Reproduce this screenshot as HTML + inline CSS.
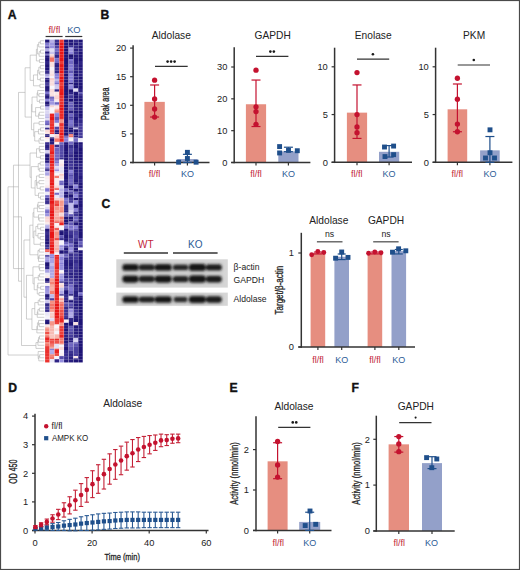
<!DOCTYPE html>
<html><head><meta charset="utf-8"><style>
html,body{margin:0;padding:0;background:#fff;}
svg{display:block;font-family:"Liberation Sans", sans-serif;}
text{font-variant-ligatures:none;font-feature-settings:'liga' 0;}
</style></head><body>
<svg width="520" height="570" viewBox="0 0 520 570">
<rect x="0" y="0" width="520" height="570" fill="#ffffff" />
<text x="7.8" y="18.97" font-size="12.2" text-anchor="start" fill="#111" font-weight="bold" stroke="#111" stroke-width="0.35">A</text>
<text x="100.6" y="18.57" font-size="12.2" text-anchor="start" fill="#111" font-weight="bold" stroke="#111" stroke-width="0.35">B</text>
<text x="101.4" y="207.57" font-size="12.2" text-anchor="start" fill="#111" font-weight="bold" stroke="#111" stroke-width="0.35">C</text>
<text x="8.2" y="391.67" font-size="12.2" text-anchor="start" fill="#111" font-weight="bold" stroke="#111" stroke-width="0.35">D</text>
<text x="229.4" y="392.07" font-size="12.2" text-anchor="start" fill="#111" font-weight="bold" stroke="#111" stroke-width="0.35">E</text>
<text x="351.4" y="391.57" font-size="12.2" text-anchor="start" fill="#111" font-weight="bold" stroke="#111" stroke-width="0.35">F</text>
<text x="171.3" y="39.15" font-size="10.2" text-anchor="middle" fill="#222222" font-weight="normal" >Aldolase</text>
<rect x="144.4" y="101.87" width="20.4" height="60.63" fill="#e68e80" />
<rect x="177.2" y="159.07" width="20.4" height="3.43" fill="#93a0c9" />
<line x1="133.1" y1="45.13" x2="133.1" y2="163.25" stroke="#333333" stroke-width="1.5" />
<line x1="130.1" y1="162.5" x2="209.5" y2="162.5" stroke="#333333" stroke-width="1.5" />
<line x1="130.1" y1="162.5" x2="133.1" y2="162.5" stroke="#333333" stroke-width="1.2" />
<text x="126.3" y="165.83" font-size="9.3" text-anchor="end" fill="#222222" font-weight="normal" >0</text>
<line x1="130.1" y1="133.9" x2="133.1" y2="133.9" stroke="#333333" stroke-width="1.2" />
<text x="126.3" y="137.23" font-size="9.3" text-anchor="end" fill="#222222" font-weight="normal" >5</text>
<line x1="130.1" y1="105.3" x2="133.1" y2="105.3" stroke="#333333" stroke-width="1.2" />
<text x="126.3" y="108.63" font-size="9.3" text-anchor="end" fill="#222222" font-weight="normal" >10</text>
<line x1="130.1" y1="76.7" x2="133.1" y2="76.7" stroke="#333333" stroke-width="1.2" />
<text x="126.3" y="80.03" font-size="9.3" text-anchor="end" fill="#222222" font-weight="normal" >15</text>
<line x1="130.1" y1="48.1" x2="133.1" y2="48.1" stroke="#333333" stroke-width="1.2" />
<text x="126.3" y="51.43" font-size="9.3" text-anchor="end" fill="#222222" font-weight="normal" >20</text>
<line x1="154.6" y1="162.5" x2="154.6" y2="165.5" stroke="#333333" stroke-width="1.2" />
<line x1="187.4" y1="162.5" x2="187.4" y2="165.5" stroke="#333333" stroke-width="1.2" />
<line x1="154.6" y1="117.03" x2="154.6" y2="84.99" stroke="#c4122f" stroke-width="1.2" />
<line x1="150.1" y1="84.99" x2="159.1" y2="84.99" stroke="#c4122f" stroke-width="1.2" />
<line x1="150.1" y1="117.03" x2="159.1" y2="117.03" stroke="#c4122f" stroke-width="1.2" />
<circle cx="154.6" cy="80.13" r="2.65" fill="#c4122f"/>
<circle cx="154.6" cy="99.01" r="2.65" fill="#c4122f"/>
<circle cx="154.6" cy="109.02" r="2.65" fill="#c4122f"/>
<circle cx="154.6" cy="117.03" r="2.65" fill="#c4122f"/>
<line x1="187.4" y1="162.5" x2="187.4" y2="154.32" stroke="#1f4f8b" stroke-width="1.2" />
<line x1="182.9" y1="154.32" x2="191.9" y2="154.32" stroke="#1f4f8b" stroke-width="1.2" />
<line x1="182.9" y1="162.5" x2="191.9" y2="162.5" stroke="#1f4f8b" stroke-width="1.2" />
<rect x="176.15" y="159.76" width="4.9" height="4.9" fill="#1f4f8b" />
<rect x="184.95" y="149.87" width="4.9" height="4.9" fill="#1f4f8b" />
<rect x="184.95" y="156.05" width="4.9" height="4.9" fill="#1f4f8b" />
<rect x="193.65" y="159.76" width="4.9" height="4.9" fill="#1f4f8b" />
<line x1="155" y1="66.4" x2="187.7" y2="66.4" stroke="#333333" stroke-width="1.2" />
<circle cx="167.6" cy="61.6" r="1.3" fill="#1a1a1a"/>
<circle cx="171.1" cy="61.6" r="1.3" fill="#1a1a1a"/>
<circle cx="174.6" cy="61.6" r="1.3" fill="#1a1a1a"/>
<text x="154.6" y="177.22" font-size="9" text-anchor="middle" fill="#c21f3a" font-weight="normal" >fl/fl</text>
<text x="187.4" y="177.22" font-size="9" text-anchor="middle" fill="#2c5c96" font-weight="normal" >KO</text>
<text x="272.7" y="38.95" font-size="10.2" text-anchor="middle" fill="#222222" font-weight="normal" >GAPDH</text>
<rect x="245.9" y="104.25" width="20.2" height="58.25" fill="#e68e80" />
<rect x="278.3" y="151.36" width="20.2" height="11.14" fill="#93a0c9" />
<line x1="234.2" y1="47.26" x2="234.2" y2="163.25" stroke="#333333" stroke-width="1.5" />
<line x1="231.2" y1="162.5" x2="310.4" y2="162.5" stroke="#333333" stroke-width="1.5" />
<line x1="231.2" y1="162.5" x2="234.2" y2="162.5" stroke="#333333" stroke-width="1.2" />
<text x="227.4" y="165.83" font-size="9.3" text-anchor="end" fill="#222222" font-weight="normal" >0</text>
<line x1="231.2" y1="130.67" x2="234.2" y2="130.67" stroke="#333333" stroke-width="1.2" />
<text x="227.4" y="134" font-size="9.3" text-anchor="end" fill="#222222" font-weight="normal" >10</text>
<line x1="231.2" y1="98.83" x2="234.2" y2="98.83" stroke="#333333" stroke-width="1.2" />
<text x="227.4" y="102.16" font-size="9.3" text-anchor="end" fill="#222222" font-weight="normal" >20</text>
<line x1="231.2" y1="67" x2="234.2" y2="67" stroke="#333333" stroke-width="1.2" />
<text x="227.4" y="70.33" font-size="9.3" text-anchor="end" fill="#222222" font-weight="normal" >30</text>
<line x1="256" y1="162.5" x2="256" y2="165.5" stroke="#333333" stroke-width="1.2" />
<line x1="288.4" y1="162.5" x2="288.4" y2="165.5" stroke="#333333" stroke-width="1.2" />
<line x1="256" y1="126.53" x2="256" y2="80.05" stroke="#c4122f" stroke-width="1.2" />
<line x1="251.5" y1="80.05" x2="260.5" y2="80.05" stroke="#c4122f" stroke-width="1.2" />
<line x1="251.5" y1="126.53" x2="260.5" y2="126.53" stroke="#c4122f" stroke-width="1.2" />
<circle cx="256" cy="70.18" r="2.65" fill="#c4122f"/>
<circle cx="256" cy="106.79" r="2.65" fill="#c4122f"/>
<circle cx="256" cy="111.57" r="2.65" fill="#c4122f"/>
<circle cx="256" cy="124.3" r="2.65" fill="#c4122f"/>
<line x1="288.4" y1="151.68" x2="288.4" y2="147.22" stroke="#1f4f8b" stroke-width="1.2" />
<line x1="283.9" y1="147.22" x2="292.9" y2="147.22" stroke="#1f4f8b" stroke-width="1.2" />
<line x1="283.9" y1="151.68" x2="292.9" y2="151.68" stroke="#1f4f8b" stroke-width="1.2" />
<rect x="277.15" y="144.13" width="4.9" height="4.9" fill="#1f4f8b" />
<rect x="277.15" y="150.5" width="4.9" height="4.9" fill="#1f4f8b" />
<rect x="286.05" y="147.95" width="4.9" height="4.9" fill="#1f4f8b" />
<rect x="294.85" y="148.27" width="4.9" height="4.9" fill="#1f4f8b" />
<line x1="256" y1="56.4" x2="288.4" y2="56.4" stroke="#333333" stroke-width="1.2" />
<circle cx="270.35" cy="51.6" r="1.3" fill="#1a1a1a"/>
<circle cx="273.85" cy="51.6" r="1.3" fill="#1a1a1a"/>
<text x="256" y="177.22" font-size="9" text-anchor="middle" fill="#c21f3a" font-weight="normal" >fl/fl</text>
<text x="288.5" y="177.22" font-size="9" text-anchor="middle" fill="#2c5c96" font-weight="normal" >KO</text>
<text x="373.2" y="38.95" font-size="10.2" text-anchor="middle" fill="#222222" font-weight="normal" >Enolase</text>
<rect x="346.9" y="112.64" width="20.2" height="49.66" fill="#e68e80" />
<rect x="379" y="151.8" width="20.2" height="10.51" fill="#93a0c9" />
<line x1="334.6" y1="47.7" x2="334.6" y2="163.05" stroke="#333333" stroke-width="1.5" />
<line x1="331.6" y1="162.3" x2="412" y2="162.3" stroke="#333333" stroke-width="1.5" />
<line x1="331.6" y1="162.3" x2="334.6" y2="162.3" stroke="#333333" stroke-width="1.2" />
<text x="327.8" y="165.63" font-size="9.3" text-anchor="end" fill="#222222" font-weight="normal" >0</text>
<line x1="331.6" y1="114.55" x2="334.6" y2="114.55" stroke="#333333" stroke-width="1.2" />
<text x="327.8" y="117.88" font-size="9.3" text-anchor="end" fill="#222222" font-weight="normal" >5</text>
<line x1="331.6" y1="66.8" x2="334.6" y2="66.8" stroke="#333333" stroke-width="1.2" />
<text x="327.8" y="70.13" font-size="9.3" text-anchor="end" fill="#222222" font-weight="normal" >10</text>
<line x1="357" y1="162.3" x2="357" y2="165.3" stroke="#333333" stroke-width="1.2" />
<line x1="389.1" y1="162.3" x2="389.1" y2="165.3" stroke="#333333" stroke-width="1.2" />
<line x1="357" y1="138.43" x2="357" y2="84.95" stroke="#c4122f" stroke-width="1.2" />
<line x1="352.5" y1="84.95" x2="361.5" y2="84.95" stroke="#c4122f" stroke-width="1.2" />
<line x1="352.5" y1="138.43" x2="361.5" y2="138.43" stroke="#c4122f" stroke-width="1.2" />
<circle cx="357" cy="72.53" r="2.65" fill="#c4122f"/>
<circle cx="357" cy="114.55" r="2.65" fill="#c4122f"/>
<circle cx="357" cy="126.97" r="2.65" fill="#c4122f"/>
<circle cx="357" cy="132.69" r="2.65" fill="#c4122f"/>
<line x1="389.1" y1="157.05" x2="389.1" y2="145.59" stroke="#1f4f8b" stroke-width="1.2" />
<line x1="384.6" y1="145.59" x2="393.6" y2="145.59" stroke="#1f4f8b" stroke-width="1.2" />
<line x1="384.6" y1="157.05" x2="393.6" y2="157.05" stroke="#1f4f8b" stroke-width="1.2" />
<rect x="382.05" y="144.57" width="4.9" height="4.9" fill="#1f4f8b" />
<rect x="391.15" y="143.62" width="4.9" height="4.9" fill="#1f4f8b" />
<rect x="382.55" y="154.12" width="4.9" height="4.9" fill="#1f4f8b" />
<rect x="391.15" y="152.21" width="4.9" height="4.9" fill="#1f4f8b" />
<line x1="357" y1="59.2" x2="389.2" y2="59.2" stroke="#333333" stroke-width="1.2" />
<circle cx="372.9" cy="54.2" r="1.3" fill="#1a1a1a"/>
<text x="356.8" y="177.02" font-size="9" text-anchor="middle" fill="#c21f3a" font-weight="normal" >fl/fl</text>
<text x="388.9" y="177.02" font-size="9" text-anchor="middle" fill="#2c5c96" font-weight="normal" >KO</text>
<text x="474.1" y="38.65" font-size="10.2" text-anchor="middle" fill="#222222" font-weight="normal" >PKM</text>
<rect x="447.6" y="109.3" width="19.6" height="53" fill="#e68e80" />
<rect x="480.1" y="150.36" width="19.6" height="11.94" fill="#93a0c9" />
<line x1="435.6" y1="47.7" x2="435.6" y2="163.05" stroke="#333333" stroke-width="1.5" />
<line x1="432.6" y1="162.3" x2="512.4" y2="162.3" stroke="#333333" stroke-width="1.5" />
<line x1="432.6" y1="162.3" x2="435.6" y2="162.3" stroke="#333333" stroke-width="1.2" />
<text x="428.8" y="165.63" font-size="9.3" text-anchor="end" fill="#222222" font-weight="normal" >0</text>
<line x1="432.6" y1="114.55" x2="435.6" y2="114.55" stroke="#333333" stroke-width="1.2" />
<text x="428.8" y="117.88" font-size="9.3" text-anchor="end" fill="#222222" font-weight="normal" >5</text>
<line x1="432.6" y1="66.8" x2="435.6" y2="66.8" stroke="#333333" stroke-width="1.2" />
<text x="428.8" y="70.13" font-size="9.3" text-anchor="end" fill="#222222" font-weight="normal" >10</text>
<line x1="457.4" y1="162.3" x2="457.4" y2="165.3" stroke="#333333" stroke-width="1.2" />
<line x1="489.9" y1="162.3" x2="489.9" y2="165.3" stroke="#333333" stroke-width="1.2" />
<line x1="457.4" y1="131.74" x2="457.4" y2="83.99" stroke="#c4122f" stroke-width="1.2" />
<line x1="452.9" y1="83.99" x2="461.9" y2="83.99" stroke="#c4122f" stroke-width="1.2" />
<line x1="452.9" y1="131.74" x2="461.9" y2="131.74" stroke="#c4122f" stroke-width="1.2" />
<circle cx="457.4" cy="78.26" r="2.65" fill="#c4122f"/>
<circle cx="457.4" cy="99.27" r="2.65" fill="#c4122f"/>
<circle cx="457.4" cy="124.1" r="2.65" fill="#c4122f"/>
<circle cx="457.4" cy="131.74" r="2.65" fill="#c4122f"/>
<line x1="489.9" y1="162.3" x2="489.9" y2="136.52" stroke="#1f4f8b" stroke-width="1.2" />
<line x1="485.4" y1="136.52" x2="494.4" y2="136.52" stroke="#1f4f8b" stroke-width="1.2" />
<line x1="485.4" y1="162.3" x2="494.4" y2="162.3" stroke="#1f4f8b" stroke-width="1.2" />
<rect x="487.55" y="127.38" width="4.9" height="4.9" fill="#1f4f8b" />
<rect x="487.55" y="150.3" width="4.9" height="4.9" fill="#1f4f8b" />
<rect x="483.05" y="155.55" width="4.9" height="4.9" fill="#1f4f8b" />
<rect x="492.05" y="155.55" width="4.9" height="4.9" fill="#1f4f8b" />
<line x1="457.7" y1="65" x2="490" y2="65" stroke="#333333" stroke-width="1.2" />
<circle cx="473.8" cy="60" r="1.3" fill="#1a1a1a"/>
<text x="457.3" y="177.02" font-size="9" text-anchor="middle" fill="#c21f3a" font-weight="normal" >fl/fl</text>
<text x="490" y="177.02" font-size="9" text-anchor="middle" fill="#2c5c96" font-weight="normal" >KO</text>
<text x="105.7" y="107.45" font-size="10.2" text-anchor="middle" fill="#222222" font-weight="normal" transform="rotate(-90 105.7 103.8)"  textLength="32.6" lengthAdjust="spacingAndGlyphs" stroke="#222222" stroke-width="0.3">Peak area</text>
<defs><filter id="bl" x="-20%" y="-50%" width="140%" height="200%"><feGaussianBlur stdDeviation="0.9"/></filter><filter id="bl2" x="-30%" y="-80%" width="160%" height="260%"><feGaussianBlur stdDeviation="1.8"/></filter></defs>
<rect x="116.3" y="259.3" width="111.5" height="28.3" fill="#d6d6d6" />
<g filter="url(#bl2)">
<rect x="121.5" y="262.7" width="18" height="9.4" rx="3.2" fill="#b4b4b4"/>
<rect x="138" y="263.1" width="17.6" height="8.6" rx="2.8" fill="#b4b4b4"/>
<rect x="153.8" y="262.7" width="18.8" height="9.4" rx="3.2" fill="#b4b4b4"/>
<rect x="172" y="263.2" width="17.2" height="8.4" rx="2.7" fill="#b4b4b4"/>
<rect x="188" y="262.5" width="18.8" height="9.8" rx="3.4" fill="#b4b4b4"/>
<rect x="205" y="263" width="17.6" height="8.8" rx="2.9" fill="#b4b4b4"/>
<rect x="121.5" y="274.3" width="18" height="9.6" rx="3.3" fill="#b4b4b4"/>
<rect x="138" y="274.6" width="17.6" height="9" rx="3" fill="#b4b4b4"/>
<rect x="153.8" y="274.3" width="18.8" height="9.6" rx="3.3" fill="#b4b4b4"/>
<rect x="171.8" y="274.7" width="17.6" height="8.8" rx="2.9" fill="#b4b4b4"/>
<rect x="188" y="274.1" width="18.8" height="10" rx="3.5" fill="#b4b4b4"/>
<rect x="205" y="274.4" width="17.6" height="9.4" rx="3.2" fill="#b4b4b4"/>
</g><g filter="url(#bl)">
<rect x="122.5" y="264.2" width="16" height="6.4" rx="3.2" fill="#181818"/>
<rect x="139" y="264.6" width="15.6" height="5.6" rx="2.8" fill="#222"/>
<rect x="154.8" y="264.2" width="16.8" height="6.4" rx="3.2" fill="#181818"/>
<rect x="173" y="264.7" width="15.2" height="5.4" rx="2.7" fill="#282828"/>
<rect x="189" y="264" width="16.8" height="6.8" rx="3.4" fill="#141414"/>
<rect x="206" y="264.5" width="15.6" height="5.8" rx="2.9" fill="#1e1e1e"/>
<rect x="122.5" y="275.8" width="16" height="6.6" rx="3.3" fill="#181818"/>
<rect x="139" y="276.1" width="15.6" height="6" rx="3" fill="#202020"/>
<rect x="154.8" y="275.8" width="16.8" height="6.6" rx="3.3" fill="#181818"/>
<rect x="172.8" y="276.2" width="15.6" height="5.8" rx="2.9" fill="#222"/>
<rect x="189" y="275.6" width="16.8" height="7" rx="3.5" fill="#141414"/>
<rect x="206" y="275.9" width="15.6" height="6.4" rx="3.2" fill="#1c1c1c"/>
</g>
<rect x="116.3" y="292.6" width="111.5" height="13.2" fill="#d6d6d6" />
<g filter="url(#bl2)">
<rect x="121.5" y="294.9" width="18" height="9.2" rx="3.1" fill="#b4b4b4"/>
<rect x="138" y="295.2" width="17.6" height="8.6" rx="2.8" fill="#b4b4b4"/>
<rect x="153.8" y="294.9" width="18.8" height="9.2" rx="3.1" fill="#b4b4b4"/>
<rect x="172.8" y="295.6" width="15.6" height="7.8" rx="2.4" fill="#b4b4b4"/>
<rect x="188" y="294.8" width="18.8" height="9.4" rx="3.2" fill="#b4b4b4"/>
<rect x="205" y="295" width="17.6" height="9" rx="3" fill="#b4b4b4"/>
</g><g filter="url(#bl)">
<rect x="122.5" y="296.4" width="16" height="6.2" rx="3.1" fill="#181818"/>
<rect x="139" y="296.7" width="15.6" height="5.6" rx="2.8" fill="#222"/>
<rect x="154.8" y="296.4" width="16.8" height="6.2" rx="3.1" fill="#181818"/>
<rect x="173.8" y="297.1" width="13.6" height="4.8" rx="2.4" fill="#2e2e2e"/>
<rect x="189" y="296.3" width="16.8" height="6.4" rx="3.2" fill="#141414"/>
<rect x="206" y="296.5" width="15.6" height="6" rx="3" fill="#1c1c1c"/>
</g>
<line x1="123.8" y1="253" x2="168" y2="253" stroke="#333" stroke-width="1.3" />
<line x1="173" y1="253" x2="217.6" y2="253" stroke="#333" stroke-width="1.3" />
<text x="145.8" y="247.98" font-size="10" text-anchor="middle" fill="#c21f3a" font-weight="normal" >WT</text>
<text x="195.3" y="247.98" font-size="10" text-anchor="middle" fill="#2c5c96" font-weight="normal" >KO</text>
<text x="233.6" y="269.68" font-size="8.6" text-anchor="start" fill="#222222" font-weight="normal" >&#946;-actin</text>
<text x="233.6" y="283.08" font-size="8.6" text-anchor="start" fill="#222222" font-weight="normal" >GAPDH</text>
<text x="233.6" y="302.18" font-size="8.6" text-anchor="start" fill="#222222" font-weight="normal" >Aldolase</text>
<text x="328.8" y="223.65" font-size="10.2" text-anchor="middle" fill="#222222" font-weight="normal" >Aldolase</text>
<text x="386" y="223.65" font-size="10.2" text-anchor="middle" fill="#222222" font-weight="normal" >GAPDH</text>
<rect x="310.6" y="253" width="14.6" height="94" fill="#e68e80" />
<rect x="334.4" y="256.76" width="14.6" height="90.24" fill="#93a0c9" />
<rect x="367.6" y="253" width="14.6" height="94" fill="#e68e80" />
<rect x="391.5" y="251.12" width="14.6" height="95.88" fill="#93a0c9" />
<line x1="301.3" y1="232.8" x2="301.3" y2="347.75" stroke="#333333" stroke-width="1.5" />
<line x1="298.3" y1="347" x2="415" y2="347" stroke="#333333" stroke-width="1.5" />
<line x1="298.3" y1="347" x2="301.3" y2="347" stroke="#333333" stroke-width="1.2" />
<text x="294" y="350.33" font-size="9.3" text-anchor="end" fill="#222222" font-weight="normal" >0</text>
<line x1="298.3" y1="253" x2="301.3" y2="253" stroke="#333333" stroke-width="1.2" />
<text x="294" y="256.33" font-size="9.3" text-anchor="end" fill="#222222" font-weight="normal" >1</text>
<line x1="317.9" y1="347" x2="317.9" y2="350" stroke="#333333" stroke-width="1.2" />
<line x1="341.7" y1="347" x2="341.7" y2="350" stroke="#333333" stroke-width="1.2" />
<line x1="374.9" y1="347" x2="374.9" y2="350" stroke="#333333" stroke-width="1.2" />
<line x1="398.8" y1="347" x2="398.8" y2="350" stroke="#333333" stroke-width="1.2" />
<line x1="317.9" y1="253.94" x2="317.9" y2="252.06" stroke="#c4122f" stroke-width="1.2" />
<line x1="313.9" y1="252.06" x2="321.9" y2="252.06" stroke="#c4122f" stroke-width="1.2" />
<line x1="313.9" y1="253.94" x2="321.9" y2="253.94" stroke="#c4122f" stroke-width="1.2" />
<circle cx="311.7" cy="254.8" r="2.45" fill="#c4122f"/>
<circle cx="317.8" cy="251.4" r="2.45" fill="#c4122f"/>
<circle cx="323.8" cy="252.5" r="2.45" fill="#c4122f"/>
<line x1="341.7" y1="259.58" x2="341.7" y2="254" stroke="#1f4f8b" stroke-width="1.2" />
<line x1="337.7" y1="254" x2="345.7" y2="254" stroke="#1f4f8b" stroke-width="1.2" />
<line x1="337.7" y1="259.58" x2="345.7" y2="259.58" stroke="#1f4f8b" stroke-width="1.2" />
<rect x="333.15" y="255.75" width="4.9" height="4.9" fill="#1f4f8b" />
<rect x="339.25" y="249.55" width="4.9" height="4.9" fill="#1f4f8b" />
<rect x="345.55" y="254.95" width="4.9" height="4.9" fill="#1f4f8b" />
<line x1="374.9" y1="253.94" x2="374.9" y2="252.06" stroke="#c4122f" stroke-width="1.2" />
<line x1="370.9" y1="252.06" x2="378.9" y2="252.06" stroke="#c4122f" stroke-width="1.2" />
<line x1="370.9" y1="253.94" x2="378.9" y2="253.94" stroke="#c4122f" stroke-width="1.2" />
<circle cx="368.6" cy="253.2" r="2.45" fill="#c4122f"/>
<circle cx="374.8" cy="252" r="2.45" fill="#c4122f"/>
<circle cx="381" cy="252.8" r="2.45" fill="#c4122f"/>
<line x1="398.8" y1="253.94" x2="398.8" y2="249.5" stroke="#1f4f8b" stroke-width="1.2" />
<line x1="394.8" y1="249.5" x2="402.8" y2="249.5" stroke="#1f4f8b" stroke-width="1.2" />
<line x1="394.8" y1="253.94" x2="402.8" y2="253.94" stroke="#1f4f8b" stroke-width="1.2" />
<rect x="390.05" y="249.75" width="4.9" height="4.9" fill="#1f4f8b" />
<rect x="396.15" y="246.35" width="4.9" height="4.9" fill="#1f4f8b" />
<rect x="403.35" y="248.35" width="4.9" height="4.9" fill="#1f4f8b" />
<line x1="316.9" y1="241.8" x2="342.5" y2="241.8" stroke="#555" stroke-width="1.3" />
<line x1="373.2" y1="241.8" x2="398.6" y2="241.8" stroke="#555" stroke-width="1.3" />
<text x="329.6" y="237.31" font-size="8.7" text-anchor="middle" fill="#222222" font-weight="normal" >ns</text>
<text x="386" y="237.31" font-size="8.7" text-anchor="middle" fill="#222222" font-weight="normal" >ns</text>
<text x="279.5" y="293.68" font-size="10" text-anchor="middle" fill="#222222" font-weight="normal" transform="rotate(-90 279.5 290.1)"  textLength="48.8" lengthAdjust="spacingAndGlyphs" stroke="#222222" stroke-width="0.3">Target/&#946;-actin</text>
<text x="317.9" y="362.62" font-size="9" text-anchor="middle" fill="#c21f3a" font-weight="normal" >fl/fl</text>
<text x="341.7" y="362.62" font-size="9" text-anchor="middle" fill="#2c5c96" font-weight="normal" >KO</text>
<text x="374.9" y="362.62" font-size="9" text-anchor="middle" fill="#c21f3a" font-weight="normal" >fl/fl</text>
<text x="398.8" y="362.62" font-size="9" text-anchor="middle" fill="#2c5c96" font-weight="normal" >KO</text>
<text x="122.7" y="406.65" font-size="10.2" text-anchor="middle" fill="#222222" font-weight="normal" >Aldolase</text>
<line x1="35" y1="413.8" x2="35" y2="531.25" stroke="#333333" stroke-width="1.5" />
<line x1="32" y1="530.5" x2="208.5" y2="530.5" stroke="#333333" stroke-width="1.5" />
<line x1="32" y1="530.5" x2="35" y2="530.5" stroke="#333333" stroke-width="1.2" />
<text x="28.2" y="533.83" font-size="9.3" text-anchor="end" fill="#222222" font-weight="normal" >0</text>
<line x1="32" y1="501.9" x2="35" y2="501.9" stroke="#333333" stroke-width="1.2" />
<text x="28.2" y="505.23" font-size="9.3" text-anchor="end" fill="#222222" font-weight="normal" >1</text>
<line x1="32" y1="473.3" x2="35" y2="473.3" stroke="#333333" stroke-width="1.2" />
<text x="28.2" y="476.63" font-size="9.3" text-anchor="end" fill="#222222" font-weight="normal" >2</text>
<line x1="32" y1="444.7" x2="35" y2="444.7" stroke="#333333" stroke-width="1.2" />
<text x="28.2" y="448.03" font-size="9.3" text-anchor="end" fill="#222222" font-weight="normal" >3</text>
<line x1="32" y1="416.1" x2="35" y2="416.1" stroke="#333333" stroke-width="1.2" />
<text x="28.2" y="419.43" font-size="9.3" text-anchor="end" fill="#222222" font-weight="normal" >4</text>
<line x1="35" y1="530.5" x2="35" y2="533.5" stroke="#333333" stroke-width="1.2" />
<text x="35" y="545.63" font-size="9.3" text-anchor="middle" fill="#222222" font-weight="normal" >0</text>
<line x1="92.1" y1="530.5" x2="92.1" y2="533.5" stroke="#333333" stroke-width="1.2" />
<text x="92.1" y="545.63" font-size="9.3" text-anchor="middle" fill="#222222" font-weight="normal" >20</text>
<line x1="149.2" y1="530.5" x2="149.2" y2="533.5" stroke="#333333" stroke-width="1.2" />
<text x="149.2" y="545.63" font-size="9.3" text-anchor="middle" fill="#222222" font-weight="normal" >40</text>
<line x1="206.3" y1="530.5" x2="206.3" y2="533.5" stroke="#333333" stroke-width="1.2" />
<text x="206.3" y="545.63" font-size="9.3" text-anchor="middle" fill="#222222" font-weight="normal" >60</text>
<text x="122.2" y="559.81" font-size="9.8" text-anchor="middle" fill="#222222" font-weight="normal"  textLength="35.5" lengthAdjust="spacingAndGlyphs" stroke="#222222" stroke-width="0.3">Time (min)</text>
<text x="13.1" y="475.35" font-size="10.2" text-anchor="middle" fill="#222222" font-weight="normal" transform="rotate(-90 13.1 471.7)"  textLength="24" lengthAdjust="spacingAndGlyphs" stroke="#222222" stroke-width="0.3">OD 450</text>
<line x1="35.4" y1="529.93" x2="35.4" y2="527.64" stroke="#2a5a94" stroke-width="1.1" />
<line x1="33.2" y1="527.64" x2="37.6" y2="527.64" stroke="#2a5a94" stroke-width="1.1" />
<line x1="33.2" y1="529.93" x2="37.6" y2="529.93" stroke="#2a5a94" stroke-width="1.1" />
<line x1="41.11" y1="529.93" x2="41.11" y2="526.5" stroke="#2a5a94" stroke-width="1.1" />
<line x1="38.91" y1="526.5" x2="43.31" y2="526.5" stroke="#2a5a94" stroke-width="1.1" />
<line x1="38.91" y1="529.93" x2="43.31" y2="529.93" stroke="#2a5a94" stroke-width="1.1" />
<line x1="46.82" y1="530.21" x2="46.82" y2="525.07" stroke="#2a5a94" stroke-width="1.1" />
<line x1="44.62" y1="525.07" x2="49.02" y2="525.07" stroke="#2a5a94" stroke-width="1.1" />
<line x1="44.62" y1="530.21" x2="49.02" y2="530.21" stroke="#2a5a94" stroke-width="1.1" />
<line x1="52.53" y1="530.5" x2="52.53" y2="523.64" stroke="#2a5a94" stroke-width="1.1" />
<line x1="50.33" y1="523.64" x2="54.73" y2="523.64" stroke="#2a5a94" stroke-width="1.1" />
<line x1="50.33" y1="530.5" x2="54.73" y2="530.5" stroke="#2a5a94" stroke-width="1.1" />
<line x1="58.24" y1="530.5" x2="58.24" y2="522.49" stroke="#2a5a94" stroke-width="1.1" />
<line x1="56.04" y1="522.49" x2="60.44" y2="522.49" stroke="#2a5a94" stroke-width="1.1" />
<line x1="56.04" y1="530.5" x2="60.44" y2="530.5" stroke="#2a5a94" stroke-width="1.1" />
<line x1="63.95" y1="530.5" x2="63.95" y2="520.78" stroke="#2a5a94" stroke-width="1.1" />
<line x1="61.75" y1="520.78" x2="66.15" y2="520.78" stroke="#2a5a94" stroke-width="1.1" />
<line x1="61.75" y1="530.5" x2="66.15" y2="530.5" stroke="#2a5a94" stroke-width="1.1" />
<line x1="69.66" y1="530.79" x2="69.66" y2="519.35" stroke="#2a5a94" stroke-width="1.1" />
<line x1="67.46" y1="519.35" x2="71.86" y2="519.35" stroke="#2a5a94" stroke-width="1.1" />
<line x1="67.46" y1="530.79" x2="71.86" y2="530.79" stroke="#2a5a94" stroke-width="1.1" />
<line x1="75.37" y1="530.79" x2="75.37" y2="518.2" stroke="#2a5a94" stroke-width="1.1" />
<line x1="73.17" y1="518.2" x2="77.57" y2="518.2" stroke="#2a5a94" stroke-width="1.1" />
<line x1="73.17" y1="530.79" x2="77.57" y2="530.79" stroke="#2a5a94" stroke-width="1.1" />
<line x1="81.08" y1="530.5" x2="81.08" y2="516.77" stroke="#2a5a94" stroke-width="1.1" />
<line x1="78.88" y1="516.77" x2="83.28" y2="516.77" stroke="#2a5a94" stroke-width="1.1" />
<line x1="78.88" y1="530.5" x2="83.28" y2="530.5" stroke="#2a5a94" stroke-width="1.1" />
<line x1="86.79" y1="530.5" x2="86.79" y2="515.63" stroke="#2a5a94" stroke-width="1.1" />
<line x1="84.59" y1="515.63" x2="88.99" y2="515.63" stroke="#2a5a94" stroke-width="1.1" />
<line x1="84.59" y1="530.5" x2="88.99" y2="530.5" stroke="#2a5a94" stroke-width="1.1" />
<line x1="92.5" y1="530.21" x2="92.5" y2="514.77" stroke="#2a5a94" stroke-width="1.1" />
<line x1="90.3" y1="514.77" x2="94.7" y2="514.77" stroke="#2a5a94" stroke-width="1.1" />
<line x1="90.3" y1="530.21" x2="94.7" y2="530.21" stroke="#2a5a94" stroke-width="1.1" />
<line x1="98.21" y1="529.93" x2="98.21" y2="513.91" stroke="#2a5a94" stroke-width="1.1" />
<line x1="96.01" y1="513.91" x2="100.41" y2="513.91" stroke="#2a5a94" stroke-width="1.1" />
<line x1="96.01" y1="529.93" x2="100.41" y2="529.93" stroke="#2a5a94" stroke-width="1.1" />
<line x1="103.92" y1="529.36" x2="103.92" y2="513.34" stroke="#2a5a94" stroke-width="1.1" />
<line x1="101.72" y1="513.34" x2="106.12" y2="513.34" stroke="#2a5a94" stroke-width="1.1" />
<line x1="101.72" y1="529.36" x2="106.12" y2="529.36" stroke="#2a5a94" stroke-width="1.1" />
<line x1="109.63" y1="529.07" x2="109.63" y2="513.05" stroke="#2a5a94" stroke-width="1.1" />
<line x1="107.43" y1="513.05" x2="111.83" y2="513.05" stroke="#2a5a94" stroke-width="1.1" />
<line x1="107.43" y1="529.07" x2="111.83" y2="529.07" stroke="#2a5a94" stroke-width="1.1" />
<line x1="115.34" y1="528.5" x2="115.34" y2="512.48" stroke="#2a5a94" stroke-width="1.1" />
<line x1="113.14" y1="512.48" x2="117.54" y2="512.48" stroke="#2a5a94" stroke-width="1.1" />
<line x1="113.14" y1="528.5" x2="117.54" y2="528.5" stroke="#2a5a94" stroke-width="1.1" />
<line x1="121.05" y1="528.21" x2="121.05" y2="512.2" stroke="#2a5a94" stroke-width="1.1" />
<line x1="118.85" y1="512.2" x2="123.25" y2="512.2" stroke="#2a5a94" stroke-width="1.1" />
<line x1="118.85" y1="528.21" x2="123.25" y2="528.21" stroke="#2a5a94" stroke-width="1.1" />
<line x1="126.76" y1="527.93" x2="126.76" y2="511.91" stroke="#2a5a94" stroke-width="1.1" />
<line x1="124.56" y1="511.91" x2="128.96" y2="511.91" stroke="#2a5a94" stroke-width="1.1" />
<line x1="124.56" y1="527.93" x2="128.96" y2="527.93" stroke="#2a5a94" stroke-width="1.1" />
<line x1="132.47" y1="527.93" x2="132.47" y2="511.91" stroke="#2a5a94" stroke-width="1.1" />
<line x1="130.27" y1="511.91" x2="134.67" y2="511.91" stroke="#2a5a94" stroke-width="1.1" />
<line x1="130.27" y1="527.93" x2="134.67" y2="527.93" stroke="#2a5a94" stroke-width="1.1" />
<line x1="138.18" y1="527.93" x2="138.18" y2="511.91" stroke="#2a5a94" stroke-width="1.1" />
<line x1="135.98" y1="511.91" x2="140.38" y2="511.91" stroke="#2a5a94" stroke-width="1.1" />
<line x1="135.98" y1="527.93" x2="140.38" y2="527.93" stroke="#2a5a94" stroke-width="1.1" />
<line x1="143.89" y1="527.64" x2="143.89" y2="512.2" stroke="#2a5a94" stroke-width="1.1" />
<line x1="141.69" y1="512.2" x2="146.09" y2="512.2" stroke="#2a5a94" stroke-width="1.1" />
<line x1="141.69" y1="527.64" x2="146.09" y2="527.64" stroke="#2a5a94" stroke-width="1.1" />
<line x1="149.6" y1="527.64" x2="149.6" y2="512.2" stroke="#2a5a94" stroke-width="1.1" />
<line x1="147.4" y1="512.2" x2="151.8" y2="512.2" stroke="#2a5a94" stroke-width="1.1" />
<line x1="147.4" y1="527.64" x2="151.8" y2="527.64" stroke="#2a5a94" stroke-width="1.1" />
<line x1="155.31" y1="527.64" x2="155.31" y2="512.2" stroke="#2a5a94" stroke-width="1.1" />
<line x1="153.11" y1="512.2" x2="157.51" y2="512.2" stroke="#2a5a94" stroke-width="1.1" />
<line x1="153.11" y1="527.64" x2="157.51" y2="527.64" stroke="#2a5a94" stroke-width="1.1" />
<line x1="161.02" y1="527.64" x2="161.02" y2="512.2" stroke="#2a5a94" stroke-width="1.1" />
<line x1="158.82" y1="512.2" x2="163.22" y2="512.2" stroke="#2a5a94" stroke-width="1.1" />
<line x1="158.82" y1="527.64" x2="163.22" y2="527.64" stroke="#2a5a94" stroke-width="1.1" />
<line x1="166.73" y1="527.64" x2="166.73" y2="512.2" stroke="#2a5a94" stroke-width="1.1" />
<line x1="164.53" y1="512.2" x2="168.93" y2="512.2" stroke="#2a5a94" stroke-width="1.1" />
<line x1="164.53" y1="527.64" x2="168.93" y2="527.64" stroke="#2a5a94" stroke-width="1.1" />
<line x1="172.44" y1="527.64" x2="172.44" y2="512.2" stroke="#2a5a94" stroke-width="1.1" />
<line x1="170.24" y1="512.2" x2="174.64" y2="512.2" stroke="#2a5a94" stroke-width="1.1" />
<line x1="170.24" y1="527.64" x2="174.64" y2="527.64" stroke="#2a5a94" stroke-width="1.1" />
<line x1="178.15" y1="527.64" x2="178.15" y2="512.2" stroke="#2a5a94" stroke-width="1.1" />
<line x1="175.95" y1="512.2" x2="180.35" y2="512.2" stroke="#2a5a94" stroke-width="1.1" />
<line x1="175.95" y1="527.64" x2="180.35" y2="527.64" stroke="#2a5a94" stroke-width="1.1" />
<rect x="33.3" y="526.68" width="4.2" height="4.2" fill="#1f4f8b" />
<rect x="39.01" y="526.11" width="4.2" height="4.2" fill="#1f4f8b" />
<rect x="44.72" y="525.54" width="4.2" height="4.2" fill="#1f4f8b" />
<rect x="50.43" y="524.97" width="4.2" height="4.2" fill="#1f4f8b" />
<rect x="56.14" y="524.4" width="4.2" height="4.2" fill="#1f4f8b" />
<rect x="61.85" y="523.54" width="4.2" height="4.2" fill="#1f4f8b" />
<rect x="67.56" y="522.97" width="4.2" height="4.2" fill="#1f4f8b" />
<rect x="73.27" y="522.39" width="4.2" height="4.2" fill="#1f4f8b" />
<rect x="78.98" y="521.54" width="4.2" height="4.2" fill="#1f4f8b" />
<rect x="84.69" y="520.96" width="4.2" height="4.2" fill="#1f4f8b" />
<rect x="90.4" y="520.39" width="4.2" height="4.2" fill="#1f4f8b" />
<rect x="96.11" y="519.82" width="4.2" height="4.2" fill="#1f4f8b" />
<rect x="101.82" y="519.25" width="4.2" height="4.2" fill="#1f4f8b" />
<rect x="107.53" y="518.96" width="4.2" height="4.2" fill="#1f4f8b" />
<rect x="113.24" y="518.39" width="4.2" height="4.2" fill="#1f4f8b" />
<rect x="118.95" y="518.1" width="4.2" height="4.2" fill="#1f4f8b" />
<rect x="124.66" y="517.82" width="4.2" height="4.2" fill="#1f4f8b" />
<rect x="130.37" y="517.82" width="4.2" height="4.2" fill="#1f4f8b" />
<rect x="136.08" y="517.82" width="4.2" height="4.2" fill="#1f4f8b" />
<rect x="141.79" y="517.82" width="4.2" height="4.2" fill="#1f4f8b" />
<rect x="147.5" y="517.82" width="4.2" height="4.2" fill="#1f4f8b" />
<rect x="153.21" y="517.82" width="4.2" height="4.2" fill="#1f4f8b" />
<rect x="158.92" y="517.82" width="4.2" height="4.2" fill="#1f4f8b" />
<rect x="164.63" y="517.82" width="4.2" height="4.2" fill="#1f4f8b" />
<rect x="170.34" y="517.82" width="4.2" height="4.2" fill="#1f4f8b" />
<rect x="176.05" y="517.82" width="4.2" height="4.2" fill="#1f4f8b" />
<line x1="35.4" y1="528.5" x2="35.4" y2="525.64" stroke="#c42036" stroke-width="1.1" />
<line x1="33.2" y1="525.64" x2="37.6" y2="525.64" stroke="#c42036" stroke-width="1.1" />
<line x1="33.2" y1="528.5" x2="37.6" y2="528.5" stroke="#c42036" stroke-width="1.1" />
<circle cx="35.4" cy="527.07" r="2.3" fill="#c4122f"/>
<line x1="41.11" y1="526.78" x2="41.11" y2="522.78" stroke="#c42036" stroke-width="1.1" />
<line x1="38.91" y1="522.78" x2="43.31" y2="522.78" stroke="#c42036" stroke-width="1.1" />
<line x1="38.91" y1="526.78" x2="43.31" y2="526.78" stroke="#c42036" stroke-width="1.1" />
<circle cx="41.11" cy="524.78" r="2.3" fill="#c4122f"/>
<line x1="46.82" y1="524.78" x2="46.82" y2="519.06" stroke="#c42036" stroke-width="1.1" />
<line x1="44.62" y1="519.06" x2="49.02" y2="519.06" stroke="#c42036" stroke-width="1.1" />
<line x1="44.62" y1="524.78" x2="49.02" y2="524.78" stroke="#c42036" stroke-width="1.1" />
<circle cx="46.82" cy="521.92" r="2.3" fill="#c4122f"/>
<line x1="52.53" y1="522.21" x2="52.53" y2="514.77" stroke="#c42036" stroke-width="1.1" />
<line x1="50.33" y1="514.77" x2="54.73" y2="514.77" stroke="#c42036" stroke-width="1.1" />
<line x1="50.33" y1="522.21" x2="54.73" y2="522.21" stroke="#c42036" stroke-width="1.1" />
<circle cx="52.53" cy="518.49" r="2.3" fill="#c4122f"/>
<line x1="58.24" y1="519.63" x2="58.24" y2="509.34" stroke="#c42036" stroke-width="1.1" />
<line x1="56.04" y1="509.34" x2="60.44" y2="509.34" stroke="#c42036" stroke-width="1.1" />
<line x1="56.04" y1="519.63" x2="60.44" y2="519.63" stroke="#c42036" stroke-width="1.1" />
<circle cx="58.24" cy="514.48" r="2.3" fill="#c4122f"/>
<line x1="63.95" y1="517.06" x2="63.95" y2="502.76" stroke="#c42036" stroke-width="1.1" />
<line x1="61.75" y1="502.76" x2="66.15" y2="502.76" stroke="#c42036" stroke-width="1.1" />
<line x1="61.75" y1="517.06" x2="66.15" y2="517.06" stroke="#c42036" stroke-width="1.1" />
<circle cx="63.95" cy="509.91" r="2.3" fill="#c4122f"/>
<line x1="69.66" y1="513.91" x2="69.66" y2="496.75" stroke="#c42036" stroke-width="1.1" />
<line x1="67.46" y1="496.75" x2="71.86" y2="496.75" stroke="#c42036" stroke-width="1.1" />
<line x1="67.46" y1="513.91" x2="71.86" y2="513.91" stroke="#c42036" stroke-width="1.1" />
<circle cx="69.66" cy="505.33" r="2.3" fill="#c4122f"/>
<line x1="75.37" y1="510.19" x2="75.37" y2="490.17" stroke="#c42036" stroke-width="1.1" />
<line x1="73.17" y1="490.17" x2="77.57" y2="490.17" stroke="#c42036" stroke-width="1.1" />
<line x1="73.17" y1="510.19" x2="77.57" y2="510.19" stroke="#c42036" stroke-width="1.1" />
<circle cx="75.37" cy="500.18" r="2.3" fill="#c4122f"/>
<line x1="81.08" y1="506.48" x2="81.08" y2="483.6" stroke="#c42036" stroke-width="1.1" />
<line x1="78.88" y1="483.6" x2="83.28" y2="483.6" stroke="#c42036" stroke-width="1.1" />
<line x1="78.88" y1="506.48" x2="83.28" y2="506.48" stroke="#c42036" stroke-width="1.1" />
<circle cx="81.08" cy="495.04" r="2.3" fill="#c4122f"/>
<line x1="86.79" y1="502.19" x2="86.79" y2="477.59" stroke="#c42036" stroke-width="1.1" />
<line x1="84.59" y1="477.59" x2="88.99" y2="477.59" stroke="#c42036" stroke-width="1.1" />
<line x1="84.59" y1="502.19" x2="88.99" y2="502.19" stroke="#c42036" stroke-width="1.1" />
<circle cx="86.79" cy="489.89" r="2.3" fill="#c4122f"/>
<line x1="92.5" y1="497.61" x2="92.5" y2="470.73" stroke="#c42036" stroke-width="1.1" />
<line x1="90.3" y1="470.73" x2="94.7" y2="470.73" stroke="#c42036" stroke-width="1.1" />
<line x1="90.3" y1="497.61" x2="94.7" y2="497.61" stroke="#c42036" stroke-width="1.1" />
<circle cx="92.5" cy="484.17" r="2.3" fill="#c4122f"/>
<line x1="98.21" y1="493.32" x2="98.21" y2="464.72" stroke="#c42036" stroke-width="1.1" />
<line x1="96.01" y1="464.72" x2="100.41" y2="464.72" stroke="#c42036" stroke-width="1.1" />
<line x1="96.01" y1="493.32" x2="100.41" y2="493.32" stroke="#c42036" stroke-width="1.1" />
<circle cx="98.21" cy="479.02" r="2.3" fill="#c4122f"/>
<line x1="103.92" y1="489.03" x2="103.92" y2="459.29" stroke="#c42036" stroke-width="1.1" />
<line x1="101.72" y1="459.29" x2="106.12" y2="459.29" stroke="#c42036" stroke-width="1.1" />
<line x1="101.72" y1="489.03" x2="106.12" y2="489.03" stroke="#c42036" stroke-width="1.1" />
<circle cx="103.92" cy="474.16" r="2.3" fill="#c4122f"/>
<line x1="109.63" y1="484.17" x2="109.63" y2="453.85" stroke="#c42036" stroke-width="1.1" />
<line x1="107.43" y1="453.85" x2="111.83" y2="453.85" stroke="#c42036" stroke-width="1.1" />
<line x1="107.43" y1="484.17" x2="111.83" y2="484.17" stroke="#c42036" stroke-width="1.1" />
<circle cx="109.63" cy="469.01" r="2.3" fill="#c4122f"/>
<line x1="115.34" y1="479.31" x2="115.34" y2="449.56" stroke="#c42036" stroke-width="1.1" />
<line x1="113.14" y1="449.56" x2="117.54" y2="449.56" stroke="#c42036" stroke-width="1.1" />
<line x1="113.14" y1="479.31" x2="117.54" y2="479.31" stroke="#c42036" stroke-width="1.1" />
<circle cx="115.34" cy="464.43" r="2.3" fill="#c4122f"/>
<line x1="121.05" y1="474.73" x2="121.05" y2="446.13" stroke="#c42036" stroke-width="1.1" />
<line x1="118.85" y1="446.13" x2="123.25" y2="446.13" stroke="#c42036" stroke-width="1.1" />
<line x1="118.85" y1="474.73" x2="123.25" y2="474.73" stroke="#c42036" stroke-width="1.1" />
<circle cx="121.05" cy="460.43" r="2.3" fill="#c4122f"/>
<line x1="126.76" y1="470.15" x2="126.76" y2="442.13" stroke="#c42036" stroke-width="1.1" />
<line x1="124.56" y1="442.13" x2="128.96" y2="442.13" stroke="#c42036" stroke-width="1.1" />
<line x1="124.56" y1="470.15" x2="128.96" y2="470.15" stroke="#c42036" stroke-width="1.1" />
<circle cx="126.76" cy="456.14" r="2.3" fill="#c4122f"/>
<line x1="132.47" y1="467.01" x2="132.47" y2="439.55" stroke="#c42036" stroke-width="1.1" />
<line x1="130.27" y1="439.55" x2="134.67" y2="439.55" stroke="#c42036" stroke-width="1.1" />
<line x1="130.27" y1="467.01" x2="134.67" y2="467.01" stroke="#c42036" stroke-width="1.1" />
<circle cx="132.47" cy="453.28" r="2.3" fill="#c4122f"/>
<line x1="138.18" y1="461.57" x2="138.18" y2="437.55" stroke="#c42036" stroke-width="1.1" />
<line x1="135.98" y1="437.55" x2="140.38" y2="437.55" stroke="#c42036" stroke-width="1.1" />
<line x1="135.98" y1="461.57" x2="140.38" y2="461.57" stroke="#c42036" stroke-width="1.1" />
<circle cx="138.18" cy="449.56" r="2.3" fill="#c4122f"/>
<line x1="143.89" y1="457.57" x2="143.89" y2="436.41" stroke="#c42036" stroke-width="1.1" />
<line x1="141.69" y1="436.41" x2="146.09" y2="436.41" stroke="#c42036" stroke-width="1.1" />
<line x1="141.69" y1="457.57" x2="146.09" y2="457.57" stroke="#c42036" stroke-width="1.1" />
<circle cx="143.89" cy="446.99" r="2.3" fill="#c4122f"/>
<line x1="149.6" y1="453.85" x2="149.6" y2="435.55" stroke="#c42036" stroke-width="1.1" />
<line x1="147.4" y1="435.55" x2="151.8" y2="435.55" stroke="#c42036" stroke-width="1.1" />
<line x1="147.4" y1="453.85" x2="151.8" y2="453.85" stroke="#c42036" stroke-width="1.1" />
<circle cx="149.6" cy="444.7" r="2.3" fill="#c4122f"/>
<line x1="155.31" y1="450.42" x2="155.31" y2="434.98" stroke="#c42036" stroke-width="1.1" />
<line x1="153.11" y1="434.98" x2="157.51" y2="434.98" stroke="#c42036" stroke-width="1.1" />
<line x1="153.11" y1="450.42" x2="157.51" y2="450.42" stroke="#c42036" stroke-width="1.1" />
<circle cx="155.31" cy="442.7" r="2.3" fill="#c4122f"/>
<line x1="161.02" y1="446.7" x2="161.02" y2="434.12" stroke="#c42036" stroke-width="1.1" />
<line x1="158.82" y1="434.12" x2="163.22" y2="434.12" stroke="#c42036" stroke-width="1.1" />
<line x1="158.82" y1="446.7" x2="163.22" y2="446.7" stroke="#c42036" stroke-width="1.1" />
<circle cx="161.02" cy="440.41" r="2.3" fill="#c4122f"/>
<line x1="166.73" y1="445.56" x2="166.73" y2="434.69" stroke="#c42036" stroke-width="1.1" />
<line x1="164.53" y1="434.69" x2="168.93" y2="434.69" stroke="#c42036" stroke-width="1.1" />
<line x1="164.53" y1="445.56" x2="168.93" y2="445.56" stroke="#c42036" stroke-width="1.1" />
<circle cx="166.73" cy="440.12" r="2.3" fill="#c4122f"/>
<line x1="172.44" y1="443.27" x2="172.44" y2="434.12" stroke="#c42036" stroke-width="1.1" />
<line x1="170.24" y1="434.12" x2="174.64" y2="434.12" stroke="#c42036" stroke-width="1.1" />
<line x1="170.24" y1="443.27" x2="174.64" y2="443.27" stroke="#c42036" stroke-width="1.1" />
<circle cx="172.44" cy="438.69" r="2.3" fill="#c4122f"/>
<line x1="178.15" y1="442.7" x2="178.15" y2="434.12" stroke="#c42036" stroke-width="1.1" />
<line x1="175.95" y1="434.12" x2="180.35" y2="434.12" stroke="#c42036" stroke-width="1.1" />
<line x1="175.95" y1="442.7" x2="180.35" y2="442.7" stroke="#c42036" stroke-width="1.1" />
<circle cx="178.15" cy="438.41" r="2.3" fill="#c4122f"/>
<circle cx="46.2" cy="426.2" r="2.2" fill="#c4122f"/>
<rect x="44.1" y="436.1" width="4.2" height="4.2" fill="#1f4f8b" />
<text x="51.6" y="429.24" font-size="8.5" text-anchor="start" fill="#222222" font-weight="normal" >fl/fl</text>
<text x="51.9" y="440.94" font-size="8.5" text-anchor="start" fill="#222222" font-weight="normal"  textLength="36.4" lengthAdjust="spacingAndGlyphs">AMPK KO</text>
<text x="294" y="409.65" font-size="10.2" text-anchor="middle" fill="#222222" font-weight="normal" >Aldolase</text>
<rect x="267.6" y="461.32" width="20" height="69.08" fill="#e68e80" />
<rect x="299.2" y="521.92" width="21" height="8.48" fill="#93a0c9" />
<line x1="256" y1="416.3" x2="256" y2="531.15" stroke="#333333" stroke-width="1.5" />
<line x1="253" y1="530.4" x2="331.5" y2="530.4" stroke="#333333" stroke-width="1.5" />
<line x1="253" y1="530.4" x2="256" y2="530.4" stroke="#333333" stroke-width="1.2" />
<text x="249" y="533.73" font-size="9.3" text-anchor="end" fill="#222222" font-weight="normal" >0</text>
<line x1="253" y1="490" x2="256" y2="490" stroke="#333333" stroke-width="1.2" />
<text x="249" y="493.33" font-size="9.3" text-anchor="end" fill="#222222" font-weight="normal" >1</text>
<line x1="253" y1="449.6" x2="256" y2="449.6" stroke="#333333" stroke-width="1.2" />
<text x="249" y="452.93" font-size="9.3" text-anchor="end" fill="#222222" font-weight="normal" >2</text>
<line x1="277.6" y1="530.4" x2="277.6" y2="533.4" stroke="#333333" stroke-width="1.2" />
<line x1="309.7" y1="530.4" x2="309.7" y2="533.4" stroke="#333333" stroke-width="1.2" />
<line x1="277.6" y1="478.69" x2="277.6" y2="442.73" stroke="#c4122f" stroke-width="1.2" />
<line x1="273.1" y1="442.73" x2="282.1" y2="442.73" stroke="#c4122f" stroke-width="1.2" />
<line x1="273.1" y1="478.69" x2="282.1" y2="478.69" stroke="#c4122f" stroke-width="1.2" />
<circle cx="277.6" cy="441.52" r="2.65" fill="#c4122f"/>
<circle cx="277.6" cy="464.95" r="2.65" fill="#c4122f"/>
<circle cx="277.6" cy="477.07" r="2.65" fill="#c4122f"/>
<line x1="309.7" y1="530.4" x2="309.7" y2="512.22" stroke="#1f4f8b" stroke-width="1.2" />
<line x1="305.2" y1="512.22" x2="314.2" y2="512.22" stroke="#1f4f8b" stroke-width="1.2" />
<line x1="305.2" y1="530.4" x2="314.2" y2="530.4" stroke="#1f4f8b" stroke-width="1.2" />
<rect x="307.55" y="508.56" width="4.9" height="4.9" fill="#1f4f8b" />
<rect x="302.75" y="523.1" width="4.9" height="4.9" fill="#1f4f8b" />
<rect x="313.25" y="521.89" width="4.9" height="4.9" fill="#1f4f8b" />
<line x1="278.2" y1="427.4" x2="310.4" y2="427.4" stroke="#333333" stroke-width="1.2" />
<circle cx="292.75" cy="422.4" r="1.3" fill="#1a1a1a"/>
<circle cx="296.25" cy="422.4" r="1.3" fill="#1a1a1a"/>
<text x="234" y="477.19" font-size="10.3" text-anchor="middle" fill="#222222" font-weight="normal" transform="rotate(-90 234 473.5)"  textLength="62.5" lengthAdjust="spacingAndGlyphs" stroke="#222222" stroke-width="0.3">Activity (nmol/min)</text>
<text x="278.2" y="545.82" font-size="9" text-anchor="middle" fill="#c21f3a" font-weight="normal" >fl/fl</text>
<text x="309.7" y="545.82" font-size="9" text-anchor="middle" fill="#2c5c96" font-weight="normal" >KO</text>
<text x="415.8" y="409.85" font-size="10.2" text-anchor="middle" fill="#222222" font-weight="normal" >GAPDH</text>
<rect x="388.6" y="444.34" width="20.4" height="86.56" fill="#e68e80" />
<rect x="422" y="463.12" width="20" height="67.78" fill="#93a0c9" />
<line x1="376.3" y1="415.7" x2="376.3" y2="531.65" stroke="#333333" stroke-width="1.5" />
<line x1="373.3" y1="530.9" x2="454.7" y2="530.9" stroke="#333333" stroke-width="1.5" />
<line x1="373.3" y1="530.9" x2="376.3" y2="530.9" stroke="#333333" stroke-width="1.2" />
<text x="369.8" y="534.23" font-size="9.3" text-anchor="end" fill="#222222" font-weight="normal" >0</text>
<line x1="373.3" y1="485.1" x2="376.3" y2="485.1" stroke="#333333" stroke-width="1.2" />
<text x="369.8" y="488.43" font-size="9.3" text-anchor="end" fill="#222222" font-weight="normal" >1</text>
<line x1="373.3" y1="439.3" x2="376.3" y2="439.3" stroke="#333333" stroke-width="1.2" />
<text x="369.8" y="442.63" font-size="9.3" text-anchor="end" fill="#222222" font-weight="normal" >2</text>
<line x1="398.8" y1="530.9" x2="398.8" y2="533.9" stroke="#333333" stroke-width="1.2" />
<line x1="432" y1="530.9" x2="432" y2="533.9" stroke="#333333" stroke-width="1.2" />
<line x1="398.8" y1="452.12" x2="398.8" y2="436.55" stroke="#c4122f" stroke-width="1.2" />
<line x1="394.3" y1="436.55" x2="403.3" y2="436.55" stroke="#c4122f" stroke-width="1.2" />
<line x1="394.3" y1="452.12" x2="403.3" y2="452.12" stroke="#c4122f" stroke-width="1.2" />
<circle cx="398.8" cy="436.55" r="2.65" fill="#c4122f"/>
<circle cx="398.8" cy="443.88" r="2.65" fill="#c4122f"/>
<circle cx="398.8" cy="451.67" r="2.65" fill="#c4122f"/>
<line x1="432" y1="468.61" x2="432" y2="456.7" stroke="#1f4f8b" stroke-width="1.2" />
<line x1="427.5" y1="456.7" x2="436.5" y2="456.7" stroke="#1f4f8b" stroke-width="1.2" />
<line x1="427.5" y1="468.61" x2="436.5" y2="468.61" stroke="#1f4f8b" stroke-width="1.2" />
<rect x="424.15" y="455.17" width="4.9" height="4.9" fill="#1f4f8b" />
<rect x="434.35" y="456.54" width="4.9" height="4.9" fill="#1f4f8b" />
<rect x="429.35" y="465.25" width="4.9" height="4.9" fill="#1f4f8b" />
<line x1="399.2" y1="422.7" x2="431.5" y2="422.7" stroke="#333333" stroke-width="1.2" />
<circle cx="415.6" cy="417.6" r="1.05" fill="#1a1a1a"/>
<text x="356.1" y="477.09" font-size="10.3" text-anchor="middle" fill="#222222" font-weight="normal" transform="rotate(-90 356.1 473.4)"  textLength="62.5" lengthAdjust="spacingAndGlyphs" stroke="#222222" stroke-width="0.3">Activity (nmol/min)</text>
<text x="399.2" y="546.02" font-size="9" text-anchor="middle" fill="#c21f3a" font-weight="normal" >fl/fl</text>
<text x="431.5" y="546.02" font-size="9" text-anchor="middle" fill="#2c5c96" font-weight="normal" >KO</text>
<text x="54.4" y="33.13" font-size="9.3" text-anchor="middle" fill="#c21f3a" font-weight="normal" >fl/fl</text>
<text x="73.9" y="33.13" font-size="9.3" text-anchor="middle" fill="#2c5c96" font-weight="normal" >KO</text>
<line x1="45.6" y1="36.5" x2="62.6" y2="36.5" stroke="#333" stroke-width="1.2" />
<line x1="65.2" y1="36.5" x2="82.3" y2="36.5" stroke="#333" stroke-width="1.2" />
<rect x="45.1" y="39.62" width="4.45" height="2.73" fill="#1e1476" />
<rect x="45.1" y="42.31" width="4.45" height="0.58" fill="#241a7b" />
<rect x="45.1" y="42.85" width="4.45" height="2.61" fill="#7f77d0" />
<rect x="45.1" y="45.42" width="4.45" height="1.51" fill="#766ec8" />
<rect x="45.1" y="46.89" width="4.45" height="1.66" fill="#49409e" />
<rect x="45.1" y="48.52" width="4.45" height="2.84" fill="#afa9e5" />
<rect x="45.1" y="51.33" width="4.45" height="0.34" fill="#1e1476" />
<rect x="45.1" y="51.63" width="4.45" height="2.16" fill="#1e1476" />
<rect x="45.1" y="53.75" width="4.45" height="1.03" fill="#6e65c0" />
<rect x="45.1" y="54.74" width="4.45" height="1.07" fill="#5148a5" />
<rect x="45.1" y="55.77" width="4.45" height="2.12" fill="#1e1476" />
<rect x="45.1" y="57.85" width="4.45" height="3.15" fill="#1e1476" />
<rect x="45.1" y="60.95" width="4.45" height="3.15" fill="#2e2485" />
<rect x="45.1" y="64.06" width="4.45" height="3.15" fill="#1e1476" />
<rect x="45.1" y="67.17" width="4.45" height="3.15" fill="#1e1476" />
<rect x="45.1" y="70.28" width="4.45" height="3.15" fill="#332a8a" />
<rect x="45.1" y="73.38" width="4.45" height="1" fill="#211779" />
<rect x="45.1" y="74.35" width="4.45" height="2.18" fill="#a8a1e3" />
<rect x="45.1" y="76.49" width="4.45" height="1.53" fill="#bbb6e9" />
<rect x="45.1" y="78" width="4.45" height="1.64" fill="#2e2485" />
<rect x="45.1" y="79.6" width="4.45" height="3.15" fill="#221879" />
<rect x="45.1" y="82.71" width="4.45" height="0.18" fill="#271d7e" />
<rect x="45.1" y="82.85" width="4.45" height="3.01" fill="#483e9c" />
<rect x="45.1" y="85.82" width="4.45" height="0.3" fill="#372d8d" />
<rect x="45.1" y="86.08" width="4.45" height="2.89" fill="#1e1476" />
<rect x="45.1" y="88.92" width="4.45" height="2.85" fill="#271d7e" />
<rect x="45.1" y="91.73" width="4.45" height="0.34" fill="#6e66c0" />
<rect x="45.1" y="92.03" width="4.45" height="2.16" fill="#7b72cc" />
<rect x="45.1" y="94.16" width="4.45" height="1.02" fill="#2f2586" />
<rect x="45.1" y="95.14" width="4.45" height="3.15" fill="#23197b" />
<rect x="45.1" y="98.25" width="4.45" height="0.8" fill="#2b2182" />
<rect x="45.1" y="99" width="4.45" height="2.39" fill="#8a82da" />
<rect x="45.1" y="101.35" width="4.45" height="0.11" fill="#867ed6" />
<rect x="45.1" y="101.42" width="4.45" height="3.08" fill="#201677" />
<rect x="45.1" y="104.46" width="4.45" height="1.45" fill="#1e1476" />
<rect x="45.1" y="105.87" width="4.45" height="1.74" fill="#9d96e0" />
<rect x="45.1" y="107.57" width="4.45" height="2.78" fill="#c2bdeb" />
<rect x="45.1" y="110.31" width="4.45" height="0.41" fill="#e4e1f5" />
<rect x="45.1" y="110.68" width="4.45" height="3.15" fill="#dbd7f3" />
<rect x="45.1" y="113.78" width="4.45" height="3.15" fill="#cbc7ee" />
<rect x="45.1" y="116.89" width="4.45" height="1.13" fill="#bdb8e9" />
<rect x="45.1" y="118" width="4.45" height="2.04" fill="#e1ddf4" />
<rect x="45.1" y="120" width="4.45" height="0.46" fill="#f9e5e6" />
<rect x="45.1" y="120.42" width="4.45" height="2.72" fill="#7a72cc" />
<rect x="45.1" y="123.11" width="4.45" height="2.2" fill="#665db9" />
<rect x="45.1" y="125.27" width="4.45" height="0.99" fill="#d5d1f1" />
<rect x="45.1" y="126.22" width="4.45" height="1.52" fill="#e2dff5" />
<rect x="45.1" y="127.69" width="4.45" height="1.67" fill="#352b8b" />
<rect x="45.1" y="129.32" width="4.45" height="0.43" fill="#3a3190" />
<rect x="45.1" y="129.71" width="4.45" height="2.76" fill="#f9dad8" />
<rect x="45.1" y="132.43" width="4.45" height="1.76" fill="#f9e2e2" />
<rect x="45.1" y="134.16" width="4.45" height="1.42" fill="#211779" />
<rect x="45.1" y="135.54" width="4.45" height="1.48" fill="#281e7f" />
<rect x="45.1" y="136.98" width="4.45" height="1.7" fill="#f8d7d6" />
<rect x="45.1" y="138.65" width="4.45" height="3.15" fill="#faf3f6" />
<rect x="45.1" y="141.75" width="4.45" height="0.52" fill="#f9dedd" />
<rect x="45.1" y="142.23" width="4.45" height="2.67" fill="#382e8e" />
<rect x="45.1" y="144.86" width="4.45" height="3.15" fill="#2b2182" />
<rect x="45.1" y="147.97" width="4.45" height="2.38" fill="#3c3392" />
<rect x="45.1" y="150.31" width="4.45" height="0.81" fill="#d7d3f1" />
<rect x="45.1" y="151.08" width="4.45" height="2.5" fill="#d4d0f1" />
<rect x="45.1" y="153.54" width="4.45" height="0.68" fill="#3a3190" />
<rect x="45.1" y="154.18" width="4.45" height="3.15" fill="#1f1577" />
<rect x="45.1" y="157.29" width="4.45" height="0.73" fill="#211778" />
<rect x="45.1" y="158" width="4.45" height="2.44" fill="#211778" />
<rect x="45.1" y="160.4" width="4.45" height="2.49" fill="#23197b" />
<rect x="45.1" y="162.85" width="4.45" height="0.7" fill="#6e66c0" />
<rect x="45.1" y="163.51" width="4.45" height="2.61" fill="#968ede" />
<rect x="45.1" y="166.08" width="4.45" height="0.58" fill="#aca6e4" />
<rect x="45.1" y="166.62" width="4.45" height="1.93" fill="#9088dc" />
<rect x="45.1" y="168.5" width="4.45" height="1.26" fill="#2b2182" />
<rect x="45.1" y="169.72" width="4.45" height="1.24" fill="#312888" />
<rect x="45.1" y="170.92" width="4.45" height="1.95" fill="#bbb6e9" />
<rect x="45.1" y="172.83" width="4.45" height="2.98" fill="#aaa4e4" />
<rect x="45.1" y="175.77" width="4.45" height="0.21" fill="#faf8fb" />
<rect x="45.1" y="175.94" width="4.45" height="3.15" fill="#f9edef" />
<rect x="45.1" y="179.05" width="4.45" height="3.15" fill="#faf3f6" />
<rect x="45.1" y="182.15" width="4.45" height="3.15" fill="#faf5f8" />
<rect x="45.1" y="185.26" width="4.45" height="2.67" fill="#f9e9ea" />
<rect x="45.1" y="187.89" width="4.45" height="0.52" fill="#8179d2" />
<rect x="45.1" y="188.37" width="4.45" height="3.15" fill="#8179d2" />
<rect x="45.1" y="191.48" width="4.45" height="0.49" fill="#928bdd" />
<rect x="45.1" y="191.93" width="4.45" height="2.7" fill="#ece9f8" />
<rect x="45.1" y="194.58" width="4.45" height="0.61" fill="#e0ddf4" />
<rect x="45.1" y="195.16" width="4.45" height="2.58" fill="#7168c3" />
<rect x="45.1" y="197.69" width="4.45" height="0.33" fill="#7e75cf" />
<rect x="45.1" y="198" width="4.45" height="2.84" fill="#3c3292" />
<rect x="45.1" y="200.8" width="4.45" height="3.15" fill="#39308f" />
<rect x="45.1" y="203.91" width="4.45" height="0.59" fill="#3e3594" />
<rect x="45.1" y="204.46" width="4.45" height="2.59" fill="#f1eef9" />
<rect x="45.1" y="207.02" width="4.45" height="2.33" fill="#dfdcf4" />
<rect x="45.1" y="209.31" width="4.45" height="0.85" fill="#9189dc" />
<rect x="45.1" y="210.12" width="4.45" height="3.15" fill="#766ec8" />
<rect x="45.1" y="213.23" width="4.45" height="3.15" fill="#9b94df" />
<rect x="45.1" y="216.34" width="4.45" height="0.28" fill="#a19ae1" />
<rect x="45.1" y="216.58" width="4.45" height="2.91" fill="#f8d5d3" />
<rect x="45.1" y="219.45" width="4.45" height="3.15" fill="#f9d8d7" />
<rect x="45.1" y="222.55" width="4.45" height="2.14" fill="#f9eaeb" />
<rect x="45.1" y="224.66" width="4.45" height="1.05" fill="#ada7e5" />
<rect x="45.1" y="225.66" width="4.45" height="3.07" fill="#b5afe7" />
<rect x="45.1" y="228.69" width="4.45" height="0.11" fill="#352b8b" />
<rect x="45.1" y="228.77" width="4.45" height="3.15" fill="#23197b" />
<rect x="45.1" y="231.88" width="4.45" height="3.15" fill="#392f8f" />
<rect x="45.1" y="234.98" width="4.45" height="3.04" fill="#302686" />
<rect x="45.1" y="238" width="4.45" height="0.13" fill="#302686" />
<rect x="45.1" y="238.09" width="4.45" height="3.15" fill="#261c7d" />
<rect x="45.1" y="241.2" width="4.45" height="3.15" fill="#1e1476" />
<rect x="45.1" y="244.31" width="4.45" height="3.15" fill="#39308f" />
<rect x="45.1" y="247.42" width="4.45" height="1.93" fill="#3e3594" />
<rect x="45.1" y="249.31" width="4.45" height="1.25" fill="#ea2927" />
<rect x="45.1" y="250.52" width="4.45" height="1.65" fill="#f05d54" />
<rect x="45.1" y="252.14" width="4.45" height="1.54" fill="#e4e1f5" />
<rect x="45.1" y="253.63" width="4.45" height="1.37" fill="#f9e8ea" />
<rect x="45.1" y="254.96" width="4.45" height="1.82" fill="#584fac" />
<rect x="45.1" y="256.74" width="4.45" height="0.69" fill="#4a419f" />
<rect x="45.1" y="257.39" width="4.45" height="2.5" fill="#a59ee2" />
<rect x="45.1" y="259.85" width="4.45" height="2.43" fill="#978fde" />
<rect x="45.1" y="262.23" width="4.45" height="0.76" fill="#1e1476" />
<rect x="45.1" y="262.95" width="4.45" height="3.15" fill="#1e1476" />
<rect x="45.1" y="266.06" width="4.45" height="3.15" fill="#2c2283" />
<rect x="45.1" y="269.17" width="4.45" height="0.37" fill="#2f2686" />
<rect x="45.1" y="269.5" width="4.45" height="2.81" fill="#a7a1e3" />
<rect x="45.1" y="272.28" width="4.45" height="0.5" fill="#7b73cc" />
<rect x="45.1" y="272.73" width="4.45" height="2.69" fill="#edeaf8" />
<rect x="45.1" y="275.38" width="4.45" height="2.64" fill="#f9e7e8" />
<rect x="45.1" y="278" width="4.45" height="0.53" fill="#261c7e" />
<rect x="45.1" y="278.49" width="4.45" height="3.15" fill="#1e1476" />
<rect x="45.1" y="281.6" width="4.45" height="1.29" fill="#2a2081" />
<rect x="45.1" y="282.85" width="4.45" height="1.9" fill="#f9edef" />
<rect x="45.1" y="284.71" width="4.45" height="1.41" fill="#f1eef9" />
<rect x="45.1" y="286.08" width="4.45" height="1.78" fill="#7f77d0" />
<rect x="45.1" y="287.82" width="4.45" height="3.15" fill="#9c95e0" />
<rect x="45.1" y="290.92" width="4.45" height="3.15" fill="#a29be1" />
<rect x="45.1" y="294.03" width="4.45" height="0.16" fill="#8880d8" />
<rect x="45.1" y="294.16" width="4.45" height="3.02" fill="#23197a" />
<rect x="45.1" y="297.14" width="4.45" height="2.71" fill="#342a8a" />
<rect x="45.1" y="299.81" width="4.45" height="0.48" fill="#f1eef9" />
<rect x="45.1" y="300.25" width="4.45" height="2.83" fill="#ccc7ee" />
<rect x="45.1" y="303.04" width="4.45" height="0.35" fill="#3c3392" />
<rect x="45.1" y="303.35" width="4.45" height="3.15" fill="#342b8a" />
<rect x="45.1" y="306.46" width="4.45" height="3.15" fill="#463d9b" />
<rect x="45.1" y="309.57" width="4.45" height="2.4" fill="#332989" />
<rect x="45.1" y="311.93" width="4.45" height="0.79" fill="#e1ddf4" />
<rect x="45.1" y="312.68" width="4.45" height="3.15" fill="#eae7f7" />
<rect x="45.1" y="315.78" width="4.45" height="2.24" fill="#f5f3fa" />
<rect x="45.1" y="318" width="4.45" height="0.93" fill="#f5f3fa" />
<rect x="45.1" y="318.89" width="4.45" height="0.76" fill="#faf2f5" />
<rect x="45.1" y="319.62" width="4.45" height="2.42" fill="#261c7e" />
<rect x="45.1" y="322" width="4.45" height="2.5" fill="#1e1476" />
<rect x="45.1" y="324.46" width="4.45" height="0.69" fill="#f9dfde" />
<rect x="45.1" y="325.11" width="4.45" height="1.82" fill="#f9e5e5" />
<rect x="45.1" y="326.89" width="4.45" height="1.37" fill="#f7b9b2" />
<rect x="45.1" y="328.22" width="4.45" height="3.15" fill="#f58f80" />
<rect x="45.1" y="331.32" width="4.45" height="0.45" fill="#f6aba2" />
<rect x="45.1" y="331.73" width="4.45" height="2.46" fill="#ee5048" />
<rect x="45.1" y="334.16" width="4.45" height="0.32" fill="#f6aba2" />
<rect x="45.1" y="334.43" width="4.45" height="2.19" fill="#f58a7b" />
<rect x="45.1" y="336.58" width="4.45" height="1" fill="#e91f1e" />
<rect x="45.1" y="337.54" width="4.45" height="3.15" fill="#e92321" />
<rect x="45.1" y="340.65" width="4.45" height="1.63" fill="#ed403b" />
<rect x="45.1" y="342.23" width="4.45" height="1.56" fill="#f37b6e" />
<rect x="45.1" y="343.75" width="4.45" height="1.75" fill="#f3776a" />
<rect x="45.1" y="345.46" width="4.45" height="1.44" fill="#ec3c37" />
<rect x="45.1" y="346.86" width="4.45" height="3.15" fill="#ec3834" />
<rect x="45.1" y="349.97" width="4.45" height="3.15" fill="#eb312e" />
<rect x="45.1" y="353.08" width="4.45" height="3.15" fill="#eb3430" />
<rect x="45.1" y="356.18" width="4.45" height="3.15" fill="#ec3632" />
<rect x="45.1" y="359.29" width="4.45" height="3.15" fill="#eb332f" />
<rect x="49.84" y="39.62" width="4.45" height="2.73" fill="#b6b0e7" />
<rect x="49.84" y="42.31" width="4.45" height="3.15" fill="#9f98e0" />
<rect x="49.84" y="45.42" width="4.45" height="3.13" fill="#9a93df" />
<rect x="49.84" y="48.52" width="4.45" height="3.15" fill="#e2dff5" />
<rect x="49.84" y="51.63" width="4.45" height="2.56" fill="#c8c3ed" />
<rect x="49.84" y="54.16" width="4.45" height="0.62" fill="#f9dad9" />
<rect x="49.84" y="54.74" width="4.45" height="1.88" fill="#f8d7d5" />
<rect x="49.84" y="56.58" width="4.45" height="1.31" fill="#f59689" />
<rect x="49.84" y="57.85" width="4.45" height="3.15" fill="#f27165" />
<rect x="49.84" y="60.95" width="4.45" height="1.32" fill="#f58b7c" />
<rect x="49.84" y="62.23" width="4.45" height="1.87" fill="#f9e1e1" />
<rect x="49.84" y="64.06" width="4.45" height="3.15" fill="#f9e0e0" />
<rect x="49.84" y="67.17" width="4.45" height="3.15" fill="#f6f4fb" />
<rect x="49.84" y="70.28" width="4.45" height="3.15" fill="#f9e7e8" />
<rect x="49.84" y="73.38" width="4.45" height="3.15" fill="#f9dede" />
<rect x="49.84" y="76.49" width="4.45" height="1.53" fill="#f7f4fb" />
<rect x="49.84" y="78" width="4.45" height="1.64" fill="#f8d0cd" />
<rect x="49.84" y="79.6" width="4.45" height="0.86" fill="#f7b1a9" />
<rect x="49.84" y="80.42" width="4.45" height="2.32" fill="#f9dcdc" />
<rect x="49.84" y="82.71" width="4.45" height="3.15" fill="#f9dcdb" />
<rect x="49.84" y="85.82" width="4.45" height="3.15" fill="#f9f7fc" />
<rect x="49.84" y="88.92" width="4.45" height="3.15" fill="#f9dcdb" />
<rect x="49.84" y="92.03" width="4.45" height="3.15" fill="#f9e4e5" />
<rect x="49.84" y="95.14" width="4.45" height="1.48" fill="#f9d9d8" />
<rect x="49.84" y="96.58" width="4.45" height="1.71" fill="#7168c3" />
<rect x="49.84" y="98.25" width="4.45" height="0.8" fill="#6057b3" />
<rect x="49.84" y="99" width="4.45" height="2.39" fill="#8b83da" />
<rect x="49.84" y="101.35" width="4.45" height="3.15" fill="#9e97e0" />
<rect x="49.84" y="104.46" width="4.45" height="1.04" fill="#a099e1" />
<rect x="49.84" y="105.46" width="4.45" height="2.15" fill="#f8d6d4" />
<rect x="49.84" y="107.57" width="4.45" height="3.15" fill="#f7f5fb" />
<rect x="49.84" y="110.68" width="4.45" height="2.9" fill="#f9f7fc" />
<rect x="49.84" y="113.54" width="4.45" height="0.28" fill="#ed453f" />
<rect x="49.84" y="113.78" width="4.45" height="3.15" fill="#ea2422" />
<rect x="49.84" y="116.89" width="4.45" height="1.13" fill="#e81616" />
<rect x="49.84" y="118" width="4.45" height="2.04" fill="#e81616" />
<rect x="49.84" y="120" width="4.45" height="3.15" fill="#ec3c37" />
<rect x="49.84" y="123.11" width="4.45" height="3.15" fill="#eb302d" />
<rect x="49.84" y="126.22" width="4.45" height="3.15" fill="#ea2826" />
<rect x="49.84" y="129.32" width="4.45" height="3.15" fill="#ec3833" />
<rect x="49.84" y="132.43" width="4.45" height="1.76" fill="#eb3531" />
<rect x="49.84" y="134.16" width="4.45" height="1.42" fill="#f3f0fa" />
<rect x="49.84" y="135.54" width="4.45" height="1.89" fill="#f0edf9" />
<rect x="49.84" y="137.39" width="4.45" height="1.3" fill="#1e1476" />
<rect x="49.84" y="138.65" width="4.45" height="3.15" fill="#1e1476" />
<rect x="49.84" y="141.75" width="4.45" height="2.94" fill="#261c7d" />
<rect x="49.84" y="144.66" width="4.45" height="0.25" fill="#ea2826" />
<rect x="49.84" y="144.86" width="4.45" height="3.15" fill="#ec3934" />
<rect x="49.84" y="147.97" width="4.45" height="3.15" fill="#eb3531" />
<rect x="49.84" y="151.08" width="4.45" height="3.15" fill="#e91e1d" />
<rect x="49.84" y="154.18" width="4.45" height="3.15" fill="#ed453f" />
<rect x="49.84" y="157.29" width="4.45" height="0.73" fill="#ea2a27" />
<rect x="49.84" y="158" width="4.45" height="2.44" fill="#e91e1d" />
<rect x="49.84" y="160.4" width="4.45" height="3.15" fill="#e81616" />
<rect x="49.84" y="163.51" width="4.45" height="3.15" fill="#ea2d2a" />
<rect x="49.84" y="166.62" width="4.45" height="3.15" fill="#eb322e" />
<rect x="49.84" y="169.72" width="4.45" height="3.15" fill="#e81616" />
<rect x="49.84" y="172.83" width="4.45" height="3.15" fill="#eb312d" />
<rect x="49.84" y="175.94" width="4.45" height="3.15" fill="#eb3430" />
<rect x="49.84" y="179.05" width="4.45" height="3.15" fill="#ea2524" />
<rect x="49.84" y="182.15" width="4.45" height="3.15" fill="#e81717" />
<rect x="49.84" y="185.26" width="4.45" height="3.15" fill="#ec3834" />
<rect x="49.84" y="188.37" width="4.45" height="3.15" fill="#ea2c29" />
<rect x="49.84" y="191.48" width="4.45" height="3.15" fill="#ea2b29" />
<rect x="49.84" y="194.58" width="4.45" height="3.15" fill="#e81616" />
<rect x="49.84" y="197.69" width="4.45" height="0.33" fill="#ea2523" />
<rect x="49.84" y="198" width="4.45" height="2.84" fill="#ea2523" />
<rect x="49.84" y="200.8" width="4.45" height="3.15" fill="#e81616" />
<rect x="49.84" y="203.91" width="4.45" height="3.15" fill="#eb3531" />
<rect x="49.84" y="207.02" width="4.45" height="3.15" fill="#ea2b28" />
<rect x="49.84" y="210.12" width="4.45" height="3.15" fill="#e81919" />
<rect x="49.84" y="213.23" width="4.45" height="3.15" fill="#e81616" />
<rect x="49.84" y="216.34" width="4.45" height="3.15" fill="#ea2523" />
<rect x="49.84" y="219.45" width="4.45" height="3.15" fill="#eb312e" />
<rect x="49.84" y="222.55" width="4.45" height="3.15" fill="#ec3733" />
<rect x="49.84" y="225.66" width="4.45" height="3.15" fill="#e9201f" />
<rect x="49.84" y="228.77" width="4.45" height="3.15" fill="#eb3330" />
<rect x="49.84" y="231.88" width="4.45" height="3.15" fill="#e81616" />
<rect x="49.84" y="234.98" width="4.45" height="3.04" fill="#e81616" />
<rect x="49.84" y="238" width="4.45" height="0.13" fill="#e81616" />
<rect x="49.84" y="238.09" width="4.45" height="3.15" fill="#eb3430" />
<rect x="49.84" y="241.2" width="4.45" height="3.15" fill="#eb2e2b" />
<rect x="49.84" y="244.31" width="4.45" height="3.15" fill="#e81616" />
<rect x="49.84" y="247.42" width="4.45" height="3.15" fill="#e81a19" />
<rect x="49.84" y="250.52" width="4.45" height="3.15" fill="#e81616" />
<rect x="49.84" y="253.63" width="4.45" height="0.56" fill="#ea2b28" />
<rect x="49.84" y="254.16" width="4.45" height="2.62" fill="#968ede" />
<rect x="49.84" y="256.74" width="4.45" height="1.5" fill="#8a82da" />
<rect x="49.84" y="258.19" width="4.45" height="1.69" fill="#a19ae1" />
<rect x="49.84" y="259.85" width="4.45" height="3.15" fill="#a9a3e4" />
<rect x="49.84" y="262.95" width="4.45" height="3.15" fill="#c4bfec" />
<rect x="49.84" y="266.06" width="4.45" height="3.15" fill="#a8a2e3" />
<rect x="49.84" y="269.17" width="4.45" height="3.15" fill="#aca6e4" />
<rect x="49.84" y="272.28" width="4.45" height="3.15" fill="#b0aae6" />
<rect x="49.84" y="275.38" width="4.45" height="2.64" fill="#b0aae6" />
<rect x="49.84" y="278" width="4.45" height="0.53" fill="#f69b8f" />
<rect x="49.84" y="278.49" width="4.45" height="3.15" fill="#f69b8f" />
<rect x="49.84" y="281.6" width="4.45" height="3.15" fill="#f48073" />
<rect x="49.84" y="284.71" width="4.45" height="3.15" fill="#f6a99f" />
<rect x="49.84" y="287.82" width="4.45" height="3.15" fill="#f7b0a8" />
<rect x="49.84" y="290.92" width="4.45" height="3.15" fill="#f47f71" />
<rect x="49.84" y="294.03" width="4.45" height="0.16" fill="#f48275" />
<rect x="49.84" y="294.16" width="4.45" height="3.02" fill="#beb9ea" />
<rect x="49.84" y="297.14" width="4.45" height="1.1" fill="#c4bfeb" />
<rect x="49.84" y="298.19" width="4.45" height="2.09" fill="#49409e" />
<rect x="49.84" y="300.25" width="4.45" height="0.41" fill="#362c8c" />
<rect x="49.84" y="300.62" width="4.45" height="2.78" fill="#f58f81" />
<rect x="49.84" y="303.35" width="4.45" height="3.15" fill="#f27367" />
<rect x="49.84" y="306.46" width="4.45" height="3.15" fill="#f27468" />
<rect x="49.84" y="309.57" width="4.45" height="2.4" fill="#f69a8e" />
<rect x="49.84" y="311.93" width="4.45" height="0.79" fill="#f9e6e7" />
<rect x="49.84" y="312.68" width="4.45" height="3.15" fill="#f8cbc7" />
<rect x="49.84" y="315.78" width="4.45" height="2.24" fill="#f8c6c1" />
<rect x="49.84" y="318" width="4.45" height="0.93" fill="#e8e5f7" />
<rect x="49.84" y="318.89" width="4.45" height="2.38" fill="#dfdbf4" />
<rect x="49.84" y="321.23" width="4.45" height="0.81" fill="#f58e80" />
<rect x="49.84" y="322" width="4.45" height="3.15" fill="#f59689" />
<rect x="49.84" y="325.11" width="4.45" height="1.01" fill="#f6a297" />
<rect x="49.84" y="326.08" width="4.45" height="2.18" fill="#f7b7b0" />
<rect x="49.84" y="328.22" width="4.45" height="3.15" fill="#f7b5ad" />
<rect x="49.84" y="331.32" width="4.45" height="3.15" fill="#f7bbb4" />
<rect x="49.84" y="334.43" width="4.45" height="3.15" fill="#f8c3bd" />
<rect x="49.84" y="337.54" width="4.45" height="1.5" fill="#f6a89e" />
<rect x="49.84" y="339" width="4.45" height="1.68" fill="#ed403b" />
<rect x="49.84" y="340.65" width="4.45" height="3.15" fill="#ef514a" />
<rect x="49.84" y="343.75" width="4.45" height="0.94" fill="#eb3430" />
<rect x="49.84" y="344.66" width="4.45" height="2.25" fill="#f37a6e" />
<rect x="49.84" y="346.86" width="4.45" height="1.87" fill="#f6a499" />
<rect x="49.84" y="348.69" width="4.45" height="1.31" fill="#867ed6" />
<rect x="49.84" y="349.97" width="4.45" height="3.15" fill="#b4aee7" />
<rect x="49.84" y="353.08" width="4.45" height="1.31" fill="#a9a2e3" />
<rect x="49.84" y="354.35" width="4.45" height="1.88" fill="#f48173" />
<rect x="49.84" y="356.18" width="4.45" height="3.05" fill="#f27468" />
<rect x="49.84" y="359.2" width="4.45" height="0.14" fill="#edeaf8" />
<rect x="49.84" y="359.29" width="4.45" height="3.15" fill="#ebe9f8" />
<rect x="54.58" y="39.62" width="4.45" height="2.73" fill="#3b3191" />
<rect x="54.58" y="42.31" width="4.45" height="3" fill="#302686" />
<rect x="54.58" y="45.27" width="4.45" height="0.19" fill="#6b63be" />
<rect x="54.58" y="45.42" width="4.45" height="3.15" fill="#4e45a3" />
<rect x="54.58" y="48.52" width="4.45" height="3.15" fill="#746cc6" />
<rect x="54.58" y="51.63" width="4.45" height="2.56" fill="#564daa" />
<rect x="54.58" y="54.16" width="4.45" height="0.62" fill="#2d2383" />
<rect x="54.58" y="54.74" width="4.45" height="3.15" fill="#312788" />
<rect x="54.58" y="57.85" width="4.45" height="0.39" fill="#3e3493" />
<rect x="54.58" y="58.19" width="4.45" height="2.8" fill="#7b72cc" />
<rect x="54.58" y="60.95" width="4.45" height="2.13" fill="#746bc5" />
<rect x="54.58" y="63.04" width="4.45" height="1.06" fill="#2e2485" />
<rect x="54.58" y="64.06" width="4.45" height="3.15" fill="#2a2081" />
<rect x="54.58" y="67.17" width="4.45" height="3.15" fill="#3c3392" />
<rect x="54.58" y="70.28" width="4.45" height="3.15" fill="#312788" />
<rect x="54.58" y="73.38" width="4.45" height="0.2" fill="#281e7f" />
<rect x="54.58" y="73.54" width="4.45" height="2.99" fill="#8a82da" />
<rect x="54.58" y="76.49" width="4.45" height="1.53" fill="#867ed6" />
<rect x="54.58" y="78" width="4.45" height="1.64" fill="#9c95df" />
<rect x="54.58" y="79.6" width="4.45" height="1.67" fill="#bdb8e9" />
<rect x="54.58" y="81.23" width="4.45" height="1.52" fill="#9088dc" />
<rect x="54.58" y="82.71" width="4.45" height="1.79" fill="#7c74cd" />
<rect x="54.58" y="84.46" width="4.45" height="1.39" fill="#bfb9ea" />
<rect x="54.58" y="85.82" width="4.45" height="3.15" fill="#cfcbef" />
<rect x="54.58" y="88.92" width="4.45" height="0.43" fill="#b8b2e8" />
<rect x="54.58" y="89.31" width="4.45" height="2.46" fill="#332989" />
<rect x="54.58" y="91.73" width="4.45" height="0.34" fill="#f9dfdf" />
<rect x="54.58" y="92.03" width="4.45" height="3.15" fill="#f9e7e8" />
<rect x="54.58" y="95.14" width="4.45" height="3.15" fill="#f8d6d4" />
<rect x="54.58" y="98.25" width="4.45" height="0.8" fill="#f8c7c3" />
<rect x="54.58" y="99" width="4.45" height="2.39" fill="#f9e8e9" />
<rect x="54.58" y="101.35" width="4.45" height="0.92" fill="#e8e5f7" />
<rect x="54.58" y="102.23" width="4.45" height="2.27" fill="#6c63be" />
<rect x="54.58" y="104.46" width="4.45" height="1.04" fill="#8c84db" />
<rect x="54.58" y="105.46" width="4.45" height="2.15" fill="#f9e9ea" />
<rect x="54.58" y="107.57" width="4.45" height="1.97" fill="#f9e2e2" />
<rect x="54.58" y="109.5" width="4.45" height="1.21" fill="#f58c7d" />
<rect x="54.58" y="110.68" width="4.45" height="2.1" fill="#f59284" />
<rect x="54.58" y="112.73" width="4.45" height="1.09" fill="#8d85db" />
<rect x="54.58" y="113.78" width="4.45" height="3.15" fill="#8e86db" />
<rect x="54.58" y="116.89" width="4.45" height="1.13" fill="#645bb6" />
<rect x="54.58" y="118" width="4.45" height="2.04" fill="#645bb6" />
<rect x="54.58" y="120" width="4.45" height="2.89" fill="#847cd4" />
<rect x="54.58" y="122.85" width="4.45" height="0.3" fill="#dddaf3" />
<rect x="54.58" y="123.11" width="4.45" height="3.15" fill="#eae7f7" />
<rect x="54.58" y="126.22" width="4.45" height="0.71" fill="#beb9ea" />
<rect x="54.58" y="126.89" width="4.45" height="2.48" fill="#5047a4" />
<rect x="54.58" y="129.32" width="4.45" height="0.83" fill="#5c53af" />
<rect x="54.58" y="130.12" width="4.45" height="2.35" fill="#251b7d" />
<rect x="54.58" y="132.43" width="4.45" height="1.76" fill="#251b7d" />
<rect x="54.58" y="134.16" width="4.45" height="1.42" fill="#f9d9d7" />
<rect x="54.58" y="135.54" width="4.45" height="2.7" fill="#f8cbc8" />
<rect x="54.58" y="138.19" width="4.45" height="0.49" fill="#f27367" />
<rect x="54.58" y="138.65" width="4.45" height="3.15" fill="#f3796c" />
<rect x="54.58" y="141.75" width="4.45" height="0.52" fill="#f3766a" />
<rect x="54.58" y="142.23" width="4.45" height="2.46" fill="#f9f6fc" />
<rect x="54.58" y="144.66" width="4.45" height="0.25" fill="#2c2283" />
<rect x="54.58" y="144.86" width="4.45" height="2.26" fill="#372d8d" />
<rect x="54.58" y="147.08" width="4.45" height="0.93" fill="#978fde" />
<rect x="54.58" y="147.97" width="4.45" height="3.15" fill="#6e65c0" />
<rect x="54.58" y="151.08" width="4.45" height="3.15" fill="#7168c3" />
<rect x="54.58" y="154.18" width="4.45" height="3.15" fill="#746cc6" />
<rect x="54.58" y="157.29" width="4.45" height="0.73" fill="#746cc6" />
<rect x="54.58" y="158" width="4.45" height="2.44" fill="#6a61bc" />
<rect x="54.58" y="160.4" width="4.45" height="0.87" fill="#675eb9" />
<rect x="54.58" y="161.23" width="4.45" height="2.32" fill="#7c74cd" />
<rect x="54.58" y="163.51" width="4.45" height="2.61" fill="#aca6e4" />
<rect x="54.58" y="166.08" width="4.45" height="0.58" fill="#e4e1f5" />
<rect x="54.58" y="166.62" width="4.45" height="1.93" fill="#dedbf4" />
<rect x="54.58" y="168.5" width="4.45" height="1.26" fill="#bcb7e9" />
<rect x="54.58" y="169.72" width="4.45" height="1.24" fill="#938cdd" />
<rect x="54.58" y="170.92" width="4.45" height="1.95" fill="#e4e1f5" />
<rect x="54.58" y="172.83" width="4.45" height="2.98" fill="#faf8fc" />
<rect x="54.58" y="175.77" width="4.45" height="0.21" fill="#f27468" />
<rect x="54.58" y="175.94" width="4.45" height="2.3" fill="#f47f72" />
<rect x="54.58" y="178.19" width="4.45" height="0.89" fill="#f9ecee" />
<rect x="54.58" y="179.05" width="4.45" height="3.15" fill="#f9ecee" />
<rect x="54.58" y="182.15" width="4.45" height="3.15" fill="#f9eaec" />
<rect x="54.58" y="185.26" width="4.45" height="2.67" fill="#f9dbda" />
<rect x="54.58" y="187.89" width="4.45" height="0.52" fill="#ef544d" />
<rect x="54.58" y="188.37" width="4.45" height="1.58" fill="#ef5850" />
<rect x="54.58" y="189.91" width="4.45" height="1.61" fill="#faf4f7" />
<rect x="54.58" y="191.48" width="4.45" height="1.3" fill="#f3f0fa" />
<rect x="54.58" y="192.73" width="4.45" height="1.89" fill="#766dc7" />
<rect x="54.58" y="194.58" width="4.45" height="0.61" fill="#6d64bf" />
<rect x="54.58" y="195.16" width="4.45" height="2.58" fill="#e9e7f7" />
<rect x="54.58" y="197.69" width="4.45" height="0.33" fill="#f1eef9" />
<rect x="54.58" y="198" width="4.45" height="2.46" fill="#f8d6d4" />
<rect x="54.58" y="200.42" width="4.45" height="0.42" fill="#ee4f48" />
<rect x="54.58" y="200.8" width="4.45" height="3.15" fill="#f05b52" />
<rect x="54.58" y="203.91" width="4.45" height="2.21" fill="#ed423c" />
<rect x="54.58" y="206.08" width="4.45" height="0.98" fill="#f69f93" />
<rect x="54.58" y="207.02" width="4.45" height="3.15" fill="#f59689" />
<rect x="54.58" y="210.12" width="4.45" height="3.15" fill="#f6a89e" />
<rect x="54.58" y="213.23" width="4.45" height="3.15" fill="#f7b7b0" />
<rect x="54.58" y="216.34" width="4.45" height="0.28" fill="#f7b2aa" />
<rect x="54.58" y="216.58" width="4.45" height="2.91" fill="#f6a79d" />
<rect x="54.58" y="219.45" width="4.45" height="2.02" fill="#f69d91" />
<rect x="54.58" y="221.42" width="4.45" height="1.17" fill="#ee4c45" />
<rect x="54.58" y="222.55" width="4.45" height="0.53" fill="#ed3f3a" />
<rect x="54.58" y="223.04" width="4.45" height="2.66" fill="#faf3f6" />
<rect x="54.58" y="225.66" width="4.45" height="2.27" fill="#f9e9eb" />
<rect x="54.58" y="227.89" width="4.45" height="0.92" fill="#ed413c" />
<rect x="54.58" y="228.77" width="4.45" height="1.58" fill="#ef584f" />
<rect x="54.58" y="230.31" width="4.45" height="1.61" fill="#f6a89e" />
<rect x="54.58" y="231.88" width="4.45" height="3.15" fill="#f59284" />
<rect x="54.58" y="234.98" width="4.45" height="3.04" fill="#f69b8f" />
<rect x="54.58" y="238" width="4.45" height="0.13" fill="#ec3e39" />
<rect x="54.58" y="238.09" width="4.45" height="2.37" fill="#ee4943" />
<rect x="54.58" y="240.42" width="4.45" height="0.82" fill="#f7bbb4" />
<rect x="54.58" y="241.2" width="4.45" height="3.15" fill="#f7beb8" />
<rect x="54.58" y="244.31" width="4.45" height="3.15" fill="#f7b7b0" />
<rect x="54.58" y="247.42" width="4.45" height="3.15" fill="#f7ada3" />
<rect x="54.58" y="250.52" width="4.45" height="2.06" fill="#f7bbb5" />
<rect x="54.58" y="252.54" width="4.45" height="1.13" fill="#f6f3fb" />
<rect x="54.58" y="253.63" width="4.45" height="1.37" fill="#faeef0" />
<rect x="54.58" y="254.96" width="4.45" height="1.82" fill="#e92321" />
<rect x="54.58" y="256.74" width="4.45" height="3.15" fill="#eb302d" />
<rect x="54.58" y="259.85" width="4.45" height="3.15" fill="#ec3c37" />
<rect x="54.58" y="262.95" width="4.45" height="3.15" fill="#ea2c29" />
<rect x="54.58" y="266.06" width="4.45" height="3.15" fill="#e92321" />
<rect x="54.58" y="269.17" width="4.45" height="3.15" fill="#ed453f" />
<rect x="54.58" y="272.28" width="4.45" height="3.15" fill="#eb322e" />
<rect x="54.58" y="275.38" width="4.45" height="2.64" fill="#eb322e" />
<rect x="54.58" y="278" width="4.45" height="0.53" fill="#ea2624" />
<rect x="54.58" y="278.49" width="4.45" height="3.15" fill="#e81616" />
<rect x="54.58" y="281.6" width="4.45" height="3.15" fill="#e81616" />
<rect x="54.58" y="284.71" width="4.45" height="3.15" fill="#ea2927" />
<rect x="54.58" y="287.82" width="4.45" height="3.15" fill="#e81616" />
<rect x="54.58" y="290.92" width="4.45" height="3.15" fill="#e81616" />
<rect x="54.58" y="294.03" width="4.45" height="3.15" fill="#eb2f2c" />
<rect x="54.58" y="297.14" width="4.45" height="3.15" fill="#ea2422" />
<rect x="54.58" y="300.25" width="4.45" height="3.15" fill="#ec3733" />
<rect x="54.58" y="303.35" width="4.45" height="3.15" fill="#e81616" />
<rect x="54.58" y="306.46" width="4.45" height="3.15" fill="#e81918" />
<rect x="54.58" y="309.57" width="4.45" height="3.15" fill="#e81616" />
<rect x="54.58" y="312.68" width="4.45" height="3.15" fill="#e81616" />
<rect x="54.58" y="315.78" width="4.45" height="2.24" fill="#e81818" />
<rect x="54.58" y="318" width="4.45" height="0.93" fill="#ec3c37" />
<rect x="54.58" y="318.89" width="4.45" height="3.15" fill="#ec3834" />
<rect x="54.58" y="322" width="4.45" height="2.5" fill="#ed423c" />
<rect x="54.58" y="324.46" width="4.45" height="0.69" fill="#f9dfdf" />
<rect x="54.58" y="325.11" width="4.45" height="3.15" fill="#faf7fb" />
<rect x="54.58" y="328.22" width="4.45" height="3.15" fill="#f9dedd" />
<rect x="54.58" y="331.32" width="4.45" height="2.87" fill="#f6f4fb" />
<rect x="54.58" y="334.16" width="4.45" height="0.32" fill="#f7bbb5" />
<rect x="54.58" y="334.43" width="4.45" height="3.15" fill="#f7b4ac" />
<rect x="54.58" y="337.54" width="4.45" height="1.5" fill="#f59386" />
<rect x="54.58" y="339" width="4.45" height="1.68" fill="#ea2a27" />
<rect x="54.58" y="340.65" width="4.45" height="3.15" fill="#ef534b" />
<rect x="54.58" y="343.75" width="4.45" height="0.13" fill="#ee5149" />
<rect x="54.58" y="343.85" width="4.45" height="3.05" fill="#e4e1f5" />
<rect x="54.58" y="346.86" width="4.45" height="1.87" fill="#e4e1f5" />
<rect x="54.58" y="348.69" width="4.45" height="1.31" fill="#ee5049" />
<rect x="54.58" y="349.97" width="4.45" height="3.15" fill="#ea2422" />
<rect x="54.58" y="353.08" width="4.45" height="2.93" fill="#ee4c45" />
<rect x="54.58" y="355.96" width="4.45" height="0.26" fill="#faf3f6" />
<rect x="54.58" y="356.18" width="4.45" height="3.05" fill="#f7f5fb" />
<rect x="54.58" y="359.2" width="4.45" height="0.14" fill="#1e1476" />
<rect x="54.58" y="359.29" width="4.45" height="3.15" fill="#2e2485" />
<rect x="59.32" y="39.62" width="4.45" height="2.73" fill="#ec3733" />
<rect x="59.32" y="42.31" width="4.45" height="3.15" fill="#e81616" />
<rect x="59.32" y="45.42" width="4.45" height="3.15" fill="#e81818" />
<rect x="59.32" y="48.52" width="4.45" height="3.15" fill="#e81616" />
<rect x="59.32" y="51.63" width="4.45" height="3.15" fill="#e81616" />
<rect x="59.32" y="54.74" width="4.45" height="3.15" fill="#e91d1c" />
<rect x="59.32" y="57.85" width="4.45" height="3.15" fill="#e81616" />
<rect x="59.32" y="60.95" width="4.45" height="3.15" fill="#ec3c37" />
<rect x="59.32" y="64.06" width="4.45" height="3.15" fill="#e81616" />
<rect x="59.32" y="67.17" width="4.45" height="3.15" fill="#e92120" />
<rect x="59.32" y="70.28" width="4.45" height="3.15" fill="#e81616" />
<rect x="59.32" y="73.38" width="4.45" height="3.15" fill="#ec3834" />
<rect x="59.32" y="76.49" width="4.45" height="1.53" fill="#e81616" />
<rect x="59.32" y="78" width="4.45" height="1.64" fill="#e81616" />
<rect x="59.32" y="79.6" width="4.45" height="3.15" fill="#e81616" />
<rect x="59.32" y="82.71" width="4.45" height="3.15" fill="#ec3b36" />
<rect x="59.32" y="85.82" width="4.45" height="3.15" fill="#ea2c29" />
<rect x="59.32" y="88.92" width="4.45" height="3.15" fill="#e91e1d" />
<rect x="59.32" y="92.03" width="4.45" height="3.15" fill="#e81616" />
<rect x="59.32" y="95.14" width="4.45" height="3.15" fill="#eb302d" />
<rect x="59.32" y="98.25" width="4.45" height="3.15" fill="#eb3430" />
<rect x="59.32" y="101.35" width="4.45" height="3.15" fill="#eb302d" />
<rect x="59.32" y="104.46" width="4.45" height="3.15" fill="#e91b1b" />
<rect x="59.32" y="107.57" width="4.45" height="3.15" fill="#e81616" />
<rect x="59.32" y="110.68" width="4.45" height="3.15" fill="#ea2826" />
<rect x="59.32" y="113.78" width="4.45" height="3.15" fill="#ea2927" />
<rect x="59.32" y="116.89" width="4.45" height="1.13" fill="#ea2825" />
<rect x="59.32" y="118" width="4.45" height="1.66" fill="#eb3330" />
<rect x="59.32" y="119.62" width="4.45" height="0.42" fill="#f59183" />
<rect x="59.32" y="120" width="4.45" height="2.89" fill="#f59486" />
<rect x="59.32" y="122.85" width="4.45" height="0.3" fill="#ec3632" />
<rect x="59.32" y="123.11" width="4.45" height="3.15" fill="#eb322f" />
<rect x="59.32" y="126.22" width="4.45" height="3.15" fill="#ed453f" />
<rect x="59.32" y="129.32" width="4.45" height="3.15" fill="#eb2e2b" />
<rect x="59.32" y="132.43" width="4.45" height="3.15" fill="#e81616" />
<rect x="59.32" y="135.54" width="4.45" height="3.15" fill="#eb332f" />
<rect x="59.32" y="138.65" width="4.45" height="3.15" fill="#e9201e" />
<rect x="59.32" y="141.75" width="4.45" height="0.52" fill="#ed413b" />
<rect x="59.32" y="142.23" width="4.45" height="2.46" fill="#6b63be" />
<rect x="59.32" y="144.66" width="4.45" height="0.25" fill="#423897" />
<rect x="59.32" y="144.86" width="4.45" height="3.15" fill="#544ba8" />
<rect x="59.32" y="147.97" width="4.45" height="3.15" fill="#564daa" />
<rect x="59.32" y="151.08" width="4.45" height="3.15" fill="#544ba8" />
<rect x="59.32" y="154.18" width="4.45" height="3.15" fill="#4e45a3" />
<rect x="59.32" y="157.29" width="4.45" height="0.73" fill="#4d44a1" />
<rect x="59.32" y="158" width="4.45" height="1.66" fill="#372e8d" />
<rect x="59.32" y="159.62" width="4.45" height="0.82" fill="#f9f7fc" />
<rect x="59.32" y="160.4" width="4.45" height="3.15" fill="#faf1f3" />
<rect x="59.32" y="163.51" width="4.45" height="3.15" fill="#f9e3e4" />
<rect x="59.32" y="166.62" width="4.45" height="3.15" fill="#e7e4f6" />
<rect x="59.32" y="169.72" width="4.45" height="3.15" fill="#e4e1f5" />
<rect x="59.32" y="172.83" width="4.45" height="1.36" fill="#f9ebed" />
<rect x="59.32" y="174.16" width="4.45" height="1.66" fill="#f7c0ba" />
<rect x="59.32" y="175.77" width="4.45" height="0.21" fill="#f9ebed" />
<rect x="59.32" y="175.94" width="4.45" height="3.15" fill="#f9e2e3" />
<rect x="59.32" y="179.05" width="4.45" height="1.61" fill="#faf7fb" />
<rect x="59.32" y="180.62" width="4.45" height="1.58" fill="#736bc5" />
<rect x="59.32" y="182.15" width="4.45" height="3.15" fill="#6f67c1" />
<rect x="59.32" y="185.26" width="4.45" height="0.24" fill="#7e75cf" />
<rect x="59.32" y="185.46" width="4.45" height="2.95" fill="#d7d3f1" />
<rect x="59.32" y="188.37" width="4.45" height="3.15" fill="#bab5e9" />
<rect x="59.32" y="191.48" width="4.45" height="3.15" fill="#beb9ea" />
<rect x="59.32" y="194.58" width="4.45" height="3.15" fill="#bbb5e9" />
<rect x="59.32" y="197.69" width="4.45" height="0.33" fill="#d0cbef" />
<rect x="59.32" y="198" width="4.45" height="2.46" fill="#f8c8c4" />
<rect x="59.32" y="200.42" width="4.45" height="0.42" fill="#f48779" />
<rect x="59.32" y="200.8" width="4.45" height="3.15" fill="#f59688" />
<rect x="59.32" y="203.91" width="4.45" height="2.21" fill="#f69a8d" />
<rect x="59.32" y="206.08" width="4.45" height="0.98" fill="#f7afa7" />
<rect x="59.32" y="207.02" width="4.45" height="3.15" fill="#f6988b" />
<rect x="59.32" y="210.12" width="4.45" height="2.46" fill="#f58a7b" />
<rect x="59.32" y="212.54" width="4.45" height="0.73" fill="#f7b5ae" />
<rect x="59.32" y="213.23" width="4.45" height="3.15" fill="#f8d7d6" />
<rect x="59.32" y="216.34" width="4.45" height="0.28" fill="#f8c2bd" />
<rect x="59.32" y="216.58" width="4.45" height="2.91" fill="#f48073" />
<rect x="59.32" y="219.45" width="4.45" height="2.02" fill="#f59082" />
<rect x="59.32" y="221.42" width="4.45" height="1.17" fill="#ec3e39" />
<rect x="59.32" y="222.55" width="4.45" height="2.95" fill="#ea2523" />
<rect x="59.32" y="225.46" width="4.45" height="0.24" fill="#f9e6e6" />
<rect x="59.32" y="225.66" width="4.45" height="3.15" fill="#faf4f7" />
<rect x="59.32" y="228.77" width="4.45" height="1.58" fill="#edebf8" />
<rect x="59.32" y="230.31" width="4.45" height="1.61" fill="#1e1476" />
<rect x="59.32" y="231.88" width="4.45" height="3.15" fill="#1e1476" />
<rect x="59.32" y="234.98" width="4.45" height="0.21" fill="#1e1476" />
<rect x="59.32" y="235.16" width="4.45" height="2.87" fill="#645cb7" />
<rect x="59.32" y="238" width="4.45" height="0.13" fill="#271e7f" />
<rect x="59.32" y="238.09" width="4.45" height="2.37" fill="#372e8d" />
<rect x="59.32" y="240.42" width="4.45" height="0.82" fill="#f9f7fc" />
<rect x="59.32" y="241.2" width="4.45" height="3.15" fill="#f4f1fa" />
<rect x="59.32" y="244.31" width="4.45" height="1" fill="#e8e5f7" />
<rect x="59.32" y="245.27" width="4.45" height="2.19" fill="#9890de" />
<rect x="59.32" y="247.42" width="4.45" height="2.74" fill="#a29be1" />
<rect x="59.32" y="250.12" width="4.45" height="0.45" fill="#1e1476" />
<rect x="59.32" y="250.52" width="4.45" height="3.15" fill="#1e1476" />
<rect x="59.32" y="253.63" width="4.45" height="0.56" fill="#23197b" />
<rect x="59.32" y="254.16" width="4.45" height="2.62" fill="#ada7e5" />
<rect x="59.32" y="256.74" width="4.45" height="2.3" fill="#8b83da" />
<rect x="59.32" y="259" width="4.45" height="0.88" fill="#756dc7" />
<rect x="59.32" y="259.85" width="4.45" height="3.15" fill="#a29be1" />
<rect x="59.32" y="262.95" width="4.45" height="1.74" fill="#877fd7" />
<rect x="59.32" y="264.66" width="4.45" height="1.45" fill="#928adc" />
<rect x="59.32" y="266.06" width="4.45" height="3.15" fill="#9891de" />
<rect x="59.32" y="269.17" width="4.45" height="1.18" fill="#918adc" />
<rect x="59.32" y="270.31" width="4.45" height="2.01" fill="#f8f6fb" />
<rect x="59.32" y="272.28" width="4.45" height="1.3" fill="#f9e7e8" />
<rect x="59.32" y="273.54" width="4.45" height="1.88" fill="#a59ee2" />
<rect x="59.32" y="275.38" width="4.45" height="2.64" fill="#a49ee2" />
<rect x="59.32" y="278" width="4.45" height="0.53" fill="#a49ee2" />
<rect x="59.32" y="278.49" width="4.45" height="2.78" fill="#968fde" />
<rect x="59.32" y="281.23" width="4.45" height="0.41" fill="#3a3090" />
<rect x="59.32" y="281.6" width="4.45" height="1.29" fill="#372e8d" />
<rect x="59.32" y="282.85" width="4.45" height="1.9" fill="#f9e3e4" />
<rect x="59.32" y="284.71" width="4.45" height="3.03" fill="#f8d7d5" />
<rect x="59.32" y="287.69" width="4.45" height="0.16" fill="#c0bbeb" />
<rect x="59.32" y="287.82" width="4.45" height="3.15" fill="#c8c3ed" />
<rect x="59.32" y="290.92" width="4.45" height="3.15" fill="#afa9e5" />
<rect x="59.32" y="294.03" width="4.45" height="0.16" fill="#c1bceb" />
<rect x="59.32" y="294.16" width="4.45" height="1.66" fill="#403795" />
<rect x="59.32" y="295.77" width="4.45" height="1.41" fill="#f9ecee" />
<rect x="59.32" y="297.14" width="4.45" height="1.1" fill="#f9e0e0" />
<rect x="59.32" y="298.19" width="4.45" height="2.09" fill="#f69f94" />
<rect x="59.32" y="300.25" width="4.45" height="2.03" fill="#f7b9b2" />
<rect x="59.32" y="302.23" width="4.45" height="1.16" fill="#f05f55" />
<rect x="59.32" y="303.35" width="4.45" height="3.15" fill="#f16c61" />
<rect x="59.32" y="306.46" width="4.45" height="3.15" fill="#f16c61" />
<rect x="59.32" y="309.57" width="4.45" height="3.15" fill="#ee5049" />
<rect x="59.32" y="312.68" width="4.45" height="3.15" fill="#ef534b" />
<rect x="59.32" y="315.78" width="4.45" height="2.24" fill="#ed433d" />
<rect x="59.32" y="318" width="4.45" height="0.93" fill="#e91f1e" />
<rect x="59.32" y="318.89" width="4.45" height="3.15" fill="#ea2523" />
<rect x="59.32" y="322" width="4.45" height="0.89" fill="#ee4842" />
<rect x="59.32" y="322.85" width="4.45" height="2.3" fill="#f6998d" />
<rect x="59.32" y="325.11" width="4.45" height="1.01" fill="#f69c90" />
<rect x="59.32" y="326.08" width="4.45" height="2.18" fill="#ed3f3a" />
<rect x="59.32" y="328.22" width="4.45" height="3.15" fill="#ec3b37" />
<rect x="59.32" y="331.32" width="4.45" height="3.15" fill="#ed3f3a" />
<rect x="59.32" y="334.43" width="4.45" height="3.15" fill="#e92220" />
<rect x="59.32" y="337.54" width="4.45" height="0.7" fill="#e81919" />
<rect x="59.32" y="338.19" width="4.45" height="2.49" fill="#f3786b" />
<rect x="59.32" y="340.65" width="4.45" height="3.15" fill="#f37569" />
<rect x="59.32" y="343.75" width="4.45" height="0.94" fill="#f6998c" />
<rect x="59.32" y="344.66" width="4.45" height="2.25" fill="#f8f6fb" />
<rect x="59.32" y="346.86" width="4.45" height="3.15" fill="#f9dad9" />
<rect x="59.32" y="349.97" width="4.45" height="3.15" fill="#faf7fb" />
<rect x="59.32" y="353.08" width="4.45" height="2.93" fill="#faf1f4" />
<rect x="59.32" y="355.96" width="4.45" height="0.26" fill="#4b42a0" />
<rect x="59.32" y="356.18" width="4.45" height="3.05" fill="#554ca9" />
<rect x="59.32" y="359.2" width="4.45" height="0.14" fill="#b6b0e7" />
<rect x="59.32" y="359.29" width="4.45" height="3.15" fill="#938cdd" />
<rect x="64.06" y="39.62" width="4.45" height="2.73" fill="#1e1476" />
<rect x="64.06" y="42.31" width="4.45" height="3.15" fill="#251b7d" />
<rect x="64.06" y="45.42" width="4.45" height="3.15" fill="#1e1476" />
<rect x="64.06" y="48.52" width="4.45" height="3.15" fill="#1e1476" />
<rect x="64.06" y="51.63" width="4.45" height="3.15" fill="#1e1476" />
<rect x="64.06" y="54.74" width="4.45" height="3.15" fill="#201678" />
<rect x="64.06" y="57.85" width="4.45" height="3.15" fill="#1e1476" />
<rect x="64.06" y="60.95" width="4.45" height="3.15" fill="#1e1476" />
<rect x="64.06" y="64.06" width="4.45" height="3.15" fill="#1e1476" />
<rect x="64.06" y="67.17" width="4.45" height="3.15" fill="#1e1476" />
<rect x="64.06" y="70.31" width="4.45" height="3.11" fill="#2c2283" />
<rect x="64.06" y="73.38" width="4.45" height="0.2" fill="#392f8f" />
<rect x="64.06" y="73.54" width="4.45" height="2.99" fill="#1e1476" />
<rect x="64.06" y="76.49" width="4.45" height="1.53" fill="#292081" />
<rect x="64.06" y="78" width="4.45" height="1.64" fill="#292081" />
<rect x="64.06" y="79.6" width="4.45" height="3.15" fill="#1e1476" />
<rect x="64.06" y="82.71" width="4.45" height="3.15" fill="#1e1476" />
<rect x="64.06" y="85.82" width="4.45" height="3.15" fill="#1e1476" />
<rect x="64.06" y="88.92" width="4.45" height="3.15" fill="#1e1476" />
<rect x="64.06" y="92.03" width="4.45" height="3.15" fill="#1f1577" />
<rect x="64.06" y="95.14" width="4.45" height="3.15" fill="#1e1476" />
<rect x="64.06" y="98.25" width="4.45" height="3.15" fill="#271d7e" />
<rect x="64.06" y="101.35" width="4.45" height="3.15" fill="#281e7f" />
<rect x="64.06" y="104.46" width="4.45" height="3.15" fill="#1e1476" />
<rect x="64.06" y="107.57" width="4.45" height="3.15" fill="#291f80" />
<rect x="64.06" y="110.68" width="4.45" height="3.15" fill="#1e1476" />
<rect x="64.06" y="113.78" width="4.45" height="3.15" fill="#23197b" />
<rect x="64.06" y="116.89" width="4.45" height="1.13" fill="#23197a" />
<rect x="64.06" y="118" width="4.45" height="2.04" fill="#23197a" />
<rect x="64.06" y="120" width="4.45" height="3.15" fill="#1e1476" />
<rect x="64.06" y="123.11" width="4.45" height="3.15" fill="#201678" />
<rect x="64.06" y="126.22" width="4.45" height="3.15" fill="#1f1577" />
<rect x="64.06" y="129.32" width="4.45" height="3.15" fill="#241a7c" />
<rect x="64.06" y="132.43" width="4.45" height="3.15" fill="#1e1476" />
<rect x="64.06" y="135.54" width="4.45" height="1.08" fill="#22197a" />
<rect x="64.06" y="136.58" width="4.45" height="2.11" fill="#7d75ce" />
<rect x="64.06" y="138.65" width="4.45" height="3.15" fill="#8880d8" />
<rect x="64.06" y="141.75" width="4.45" height="0.52" fill="#7971ca" />
<rect x="64.06" y="142.23" width="4.45" height="2.67" fill="#201678" />
<rect x="64.06" y="144.86" width="4.45" height="3.15" fill="#1e1476" />
<rect x="64.06" y="147.97" width="4.45" height="3.15" fill="#1e1476" />
<rect x="64.06" y="151.08" width="4.45" height="3.15" fill="#1e1476" />
<rect x="64.06" y="154.18" width="4.45" height="3.15" fill="#1e1476" />
<rect x="64.06" y="157.29" width="4.45" height="0.73" fill="#211779" />
<rect x="64.06" y="158" width="4.45" height="2.44" fill="#211779" />
<rect x="64.06" y="160.4" width="4.45" height="3.15" fill="#201678" />
<rect x="64.06" y="163.51" width="4.45" height="3.15" fill="#1e1476" />
<rect x="64.06" y="166.62" width="4.45" height="3.15" fill="#1e1476" />
<rect x="64.06" y="169.72" width="4.45" height="3.15" fill="#1f1577" />
<rect x="64.06" y="172.83" width="4.45" height="3.15" fill="#1e1476" />
<rect x="64.06" y="175.94" width="4.45" height="3.15" fill="#1e1476" />
<rect x="64.06" y="179.05" width="4.45" height="3.15" fill="#271d7e" />
<rect x="64.06" y="182.15" width="4.45" height="3.15" fill="#1f1577" />
<rect x="64.06" y="185.26" width="4.45" height="3.15" fill="#1e1476" />
<rect x="64.06" y="188.37" width="4.45" height="0.37" fill="#291f80" />
<rect x="64.06" y="188.69" width="4.45" height="2.82" fill="#7168c3" />
<rect x="64.06" y="191.48" width="4.45" height="0.49" fill="#483f9d" />
<rect x="64.06" y="191.93" width="4.45" height="2.7" fill="#1e1476" />
<rect x="64.06" y="194.58" width="4.45" height="3.15" fill="#1e1476" />
<rect x="64.06" y="197.69" width="4.45" height="0.33" fill="#211779" />
<rect x="64.06" y="198" width="4.45" height="2.84" fill="#7c73cd" />
<rect x="64.06" y="200.8" width="4.45" height="3.15" fill="#756dc7" />
<rect x="64.06" y="203.91" width="4.45" height="0.59" fill="#736ac5" />
<rect x="64.06" y="204.46" width="4.45" height="2.59" fill="#2d2384" />
<rect x="64.06" y="207.02" width="4.45" height="3.15" fill="#302687" />
<rect x="64.06" y="210.12" width="4.45" height="2.46" fill="#292081" />
<rect x="64.06" y="212.54" width="4.45" height="0.73" fill="#6e65c0" />
<rect x="64.06" y="213.23" width="4.45" height="3.15" fill="#665eb9" />
<rect x="64.06" y="216.34" width="4.45" height="0.28" fill="#5f57b2" />
<rect x="64.06" y="216.58" width="4.45" height="2.91" fill="#1e1476" />
<rect x="64.06" y="219.45" width="4.45" height="3.15" fill="#1e1476" />
<rect x="64.06" y="222.55" width="4.45" height="2.14" fill="#211779" />
<rect x="64.06" y="224.66" width="4.45" height="1.05" fill="#7b73cc" />
<rect x="64.06" y="225.66" width="4.45" height="3.07" fill="#7d75ce" />
<rect x="64.06" y="228.69" width="4.45" height="0.11" fill="#291f80" />
<rect x="64.06" y="228.77" width="4.45" height="3.15" fill="#221879" />
<rect x="64.06" y="231.88" width="4.45" height="3.15" fill="#281f80" />
<rect x="64.06" y="234.98" width="4.45" height="3.04" fill="#1e1476" />
<rect x="64.06" y="238" width="4.45" height="0.13" fill="#261c7d" />
<rect x="64.06" y="238.09" width="4.45" height="3.15" fill="#23197b" />
<rect x="64.06" y="241.2" width="4.45" height="0.88" fill="#271d7e" />
<rect x="64.06" y="242.04" width="4.45" height="2.31" fill="#6a61bc" />
<rect x="64.06" y="244.31" width="4.45" height="1.81" fill="#837bd4" />
<rect x="64.06" y="246.08" width="4.45" height="1.38" fill="#382e8e" />
<rect x="64.06" y="247.42" width="4.45" height="3.15" fill="#1e1476" />
<rect x="64.06" y="250.52" width="4.45" height="3.15" fill="#2b2182" />
<rect x="64.06" y="253.63" width="4.45" height="0.56" fill="#22187a" />
<rect x="64.06" y="254.16" width="4.45" height="2.62" fill="#635ab6" />
<rect x="64.06" y="256.74" width="4.45" height="0.69" fill="#7e76cf" />
<rect x="64.06" y="257.39" width="4.45" height="2.5" fill="#342b8b" />
<rect x="64.06" y="259.85" width="4.45" height="3.15" fill="#261c7d" />
<rect x="64.06" y="262.95" width="4.45" height="3.15" fill="#251b7d" />
<rect x="64.06" y="266.06" width="4.45" height="3.15" fill="#281e7f" />
<rect x="64.06" y="269.17" width="4.45" height="3.15" fill="#2c2383" />
<rect x="64.06" y="272.28" width="4.45" height="3.15" fill="#342b8b" />
<rect x="64.06" y="275.38" width="4.45" height="2.64" fill="#261c7d" />
<rect x="64.06" y="278" width="4.45" height="0.53" fill="#3b3291" />
<rect x="64.06" y="278.49" width="4.45" height="3.15" fill="#4d43a1" />
<rect x="64.06" y="281.6" width="4.45" height="3.15" fill="#332a8a" />
<rect x="64.06" y="284.71" width="4.45" height="1.41" fill="#392f8f" />
<rect x="64.06" y="286.08" width="4.45" height="1.78" fill="#645bb7" />
<rect x="64.06" y="287.82" width="4.45" height="2.34" fill="#5b52af" />
<rect x="64.06" y="290.12" width="4.45" height="0.85" fill="#1e1476" />
<rect x="64.06" y="290.92" width="4.45" height="3.15" fill="#1e1476" />
<rect x="64.06" y="294.03" width="4.45" height="3.15" fill="#352b8b" />
<rect x="64.06" y="297.14" width="4.45" height="3.15" fill="#332989" />
<rect x="64.06" y="300.25" width="4.45" height="2.03" fill="#201678" />
<rect x="64.06" y="302.23" width="4.45" height="1.16" fill="#554ca9" />
<rect x="64.06" y="303.35" width="4.45" height="2.96" fill="#554ca9" />
<rect x="64.06" y="306.27" width="4.45" height="0.23" fill="#2b2182" />
<rect x="64.06" y="306.46" width="4.45" height="3.15" fill="#332989" />
<rect x="64.06" y="309.57" width="4.45" height="3.15" fill="#3e3594" />
<rect x="64.06" y="312.68" width="4.45" height="3.15" fill="#413796" />
<rect x="64.06" y="315.78" width="4.45" height="2.24" fill="#3e3594" />
<rect x="64.06" y="318" width="4.45" height="0.93" fill="#22187a" />
<rect x="64.06" y="318.89" width="4.45" height="0.76" fill="#1e1476" />
<rect x="64.06" y="319.62" width="4.45" height="2.42" fill="#faf3f6" />
<rect x="64.06" y="322" width="4.45" height="0.89" fill="#e7e4f6" />
<rect x="64.06" y="322.85" width="4.45" height="2.3" fill="#1f1577" />
<rect x="64.06" y="325.11" width="4.45" height="3.15" fill="#271e7f" />
<rect x="64.06" y="328.22" width="4.45" height="3.15" fill="#201678" />
<rect x="64.06" y="331.32" width="4.45" height="3.15" fill="#2c2283" />
<rect x="64.06" y="334.43" width="4.45" height="3.15" fill="#2d2484" />
<rect x="64.06" y="337.54" width="4.45" height="3.15" fill="#211778" />
<rect x="64.06" y="340.65" width="4.45" height="3.15" fill="#22187a" />
<rect x="64.06" y="343.75" width="4.45" height="3.15" fill="#352b8b" />
<rect x="64.06" y="346.86" width="4.45" height="3.15" fill="#1e1476" />
<rect x="64.06" y="349.97" width="4.45" height="3.15" fill="#352c8c" />
<rect x="64.06" y="353.08" width="4.45" height="3.15" fill="#382f8f" />
<rect x="64.06" y="356.18" width="4.45" height="3.15" fill="#3a3190" />
<rect x="64.06" y="359.29" width="4.45" height="3.15" fill="#271d7e" />
<rect x="68.8" y="39.62" width="4.45" height="2.73" fill="#22187a" />
<rect x="68.8" y="42.31" width="4.45" height="3.15" fill="#23197b" />
<rect x="68.8" y="45.42" width="4.45" height="1.51" fill="#251b7c" />
<rect x="68.8" y="46.89" width="4.45" height="1.68" fill="#8d85db" />
<rect x="68.8" y="48.52" width="4.45" height="3.15" fill="#9f98e0" />
<rect x="68.8" y="51.63" width="4.45" height="2.56" fill="#9088dc" />
<rect x="68.8" y="54.16" width="4.45" height="0.62" fill="#201678" />
<rect x="68.8" y="54.74" width="4.45" height="3.15" fill="#1e1476" />
<rect x="68.8" y="57.85" width="4.45" height="1.2" fill="#261c7e" />
<rect x="68.8" y="59" width="4.45" height="1.99" fill="#837bd3" />
<rect x="68.8" y="60.95" width="4.45" height="3.15" fill="#6f67c1" />
<rect x="68.8" y="64.06" width="4.45" height="0.63" fill="#756dc7" />
<rect x="68.8" y="64.66" width="4.45" height="2.55" fill="#8078d1" />
<rect x="68.8" y="67.17" width="4.45" height="3.15" fill="#877fd7" />
<rect x="68.8" y="70.28" width="4.45" height="3.15" fill="#6158b4" />
<rect x="68.8" y="73.38" width="4.45" height="3.15" fill="#8981d9" />
<rect x="68.8" y="76.49" width="4.45" height="1.53" fill="#837bd4" />
<rect x="68.8" y="78" width="4.45" height="1.64" fill="#8e86db" />
<rect x="68.8" y="79.6" width="4.45" height="3.15" fill="#857dd6" />
<rect x="68.8" y="82.71" width="4.45" height="0.18" fill="#877fd7" />
<rect x="68.8" y="82.85" width="4.45" height="1.66" fill="#2c2283" />
<rect x="68.8" y="84.46" width="4.45" height="1.39" fill="#928adc" />
<rect x="68.8" y="85.82" width="4.45" height="3.15" fill="#8f87db" />
<rect x="68.8" y="88.92" width="4.45" height="0.43" fill="#8178d1" />
<rect x="68.8" y="89.31" width="4.45" height="2.76" fill="#201678" />
<rect x="68.8" y="92.03" width="4.45" height="2.16" fill="#2c2283" />
<rect x="68.8" y="94.16" width="4.45" height="1.02" fill="#5c53af" />
<rect x="68.8" y="95.14" width="4.45" height="3.15" fill="#423998" />
<rect x="68.8" y="98.25" width="4.45" height="0.8" fill="#5b52ae" />
<rect x="68.8" y="99" width="4.45" height="2.39" fill="#201678" />
<rect x="68.8" y="101.35" width="4.45" height="0.92" fill="#251b7d" />
<rect x="68.8" y="102.23" width="4.45" height="2.27" fill="#6d64bf" />
<rect x="68.8" y="104.46" width="4.45" height="3.15" fill="#625ab5" />
<rect x="68.8" y="107.57" width="4.45" height="2.78" fill="#6960bb" />
<rect x="68.8" y="110.31" width="4.45" height="0.41" fill="#1e1476" />
<rect x="68.8" y="110.68" width="4.45" height="2.9" fill="#2a2081" />
<rect x="68.8" y="113.54" width="4.45" height="0.28" fill="#726ac4" />
<rect x="68.8" y="113.78" width="4.45" height="3.15" fill="#6f66c1" />
<rect x="68.8" y="116.89" width="4.45" height="1.13" fill="#483e9d" />
<rect x="68.8" y="118" width="4.45" height="2.04" fill="#5d54b1" />
<rect x="68.8" y="120" width="4.45" height="3.15" fill="#7f77d0" />
<rect x="68.8" y="123.11" width="4.45" height="3.15" fill="#766ec8" />
<rect x="68.8" y="126.22" width="4.45" height="1.52" fill="#5950ac" />
<rect x="68.8" y="127.69" width="4.45" height="1.67" fill="#1e1476" />
<rect x="68.8" y="129.32" width="4.45" height="3.15" fill="#1e1476" />
<rect x="68.8" y="132.43" width="4.45" height="0.15" fill="#1e1476" />
<rect x="68.8" y="132.54" width="4.45" height="1.66" fill="#4d44a1" />
<rect x="68.8" y="134.16" width="4.45" height="1.42" fill="#f16c61" />
<rect x="68.8" y="135.54" width="4.45" height="1.89" fill="#f27569" />
<rect x="68.8" y="137.39" width="4.45" height="1.3" fill="#e3e0f5" />
<rect x="68.8" y="138.65" width="4.45" height="2.82" fill="#faf6fa" />
<rect x="68.8" y="141.42" width="4.45" height="0.37" fill="#5c54b0" />
<rect x="68.8" y="141.75" width="4.45" height="2.94" fill="#7168c3" />
<rect x="68.8" y="144.66" width="4.45" height="0.25" fill="#4f46a4" />
<rect x="68.8" y="144.86" width="4.45" height="3.15" fill="#3a3190" />
<rect x="68.8" y="147.97" width="4.45" height="3.15" fill="#4d44a2" />
<rect x="68.8" y="151.08" width="4.45" height="3.15" fill="#473e9c" />
<rect x="68.8" y="154.18" width="4.45" height="3.15" fill="#342a8a" />
<rect x="68.8" y="157.29" width="4.45" height="0.73" fill="#4d44a1" />
<rect x="68.8" y="158" width="4.45" height="2.44" fill="#423997" />
<rect x="68.8" y="160.4" width="4.45" height="3.15" fill="#39308f" />
<rect x="68.8" y="163.51" width="4.45" height="3.15" fill="#453b9a" />
<rect x="68.8" y="166.62" width="4.45" height="3.15" fill="#3d3493" />
<rect x="68.8" y="169.72" width="4.45" height="0.43" fill="#3e3594" />
<rect x="68.8" y="170.12" width="4.45" height="2.75" fill="#877fd8" />
<rect x="68.8" y="172.83" width="4.45" height="2.17" fill="#736ac4" />
<rect x="68.8" y="174.96" width="4.45" height="1.02" fill="#5249a6" />
<rect x="68.8" y="175.94" width="4.45" height="3.15" fill="#6a62bd" />
<rect x="68.8" y="179.05" width="4.45" height="3.15" fill="#7168c3" />
<rect x="68.8" y="182.15" width="4.45" height="3.15" fill="#6d65bf" />
<rect x="68.8" y="185.26" width="4.45" height="0.24" fill="#574eab" />
<rect x="68.8" y="185.46" width="4.45" height="2.95" fill="#1e1476" />
<rect x="68.8" y="188.37" width="4.45" height="1.98" fill="#291f80" />
<rect x="68.8" y="190.31" width="4.45" height="1.21" fill="#685fba" />
<rect x="68.8" y="191.48" width="4.45" height="2.1" fill="#5a51ad" />
<rect x="68.8" y="193.54" width="4.45" height="1.08" fill="#201678" />
<rect x="68.8" y="194.58" width="4.45" height="3.15" fill="#1e1476" />
<rect x="68.8" y="197.69" width="4.45" height="0.33" fill="#1e1476" />
<rect x="68.8" y="198" width="4.45" height="2.84" fill="#433998" />
<rect x="68.8" y="200.8" width="4.45" height="2.09" fill="#453b9a" />
<rect x="68.8" y="202.85" width="4.45" height="1.1" fill="#bdb8ea" />
<rect x="68.8" y="203.91" width="4.45" height="3.15" fill="#c4bfec" />
<rect x="68.8" y="207.02" width="4.45" height="3.15" fill="#c2bdeb" />
<rect x="68.8" y="210.12" width="4.45" height="3.15" fill="#d4d0f0" />
<rect x="68.8" y="213.23" width="4.45" height="0.96" fill="#dfdbf4" />
<rect x="68.8" y="214.16" width="4.45" height="2.22" fill="#655cb8" />
<rect x="68.8" y="216.34" width="4.45" height="0.28" fill="#5c54b0" />
<rect x="68.8" y="216.58" width="4.45" height="2.91" fill="#211879" />
<rect x="68.8" y="219.45" width="4.45" height="2.02" fill="#1e1476" />
<rect x="68.8" y="221.42" width="4.45" height="1.17" fill="#564daa" />
<rect x="68.8" y="222.55" width="4.45" height="2.95" fill="#6259b5" />
<rect x="68.8" y="225.46" width="4.45" height="0.24" fill="#8e86db" />
<rect x="68.8" y="225.66" width="4.45" height="3.15" fill="#7c73cd" />
<rect x="68.8" y="228.77" width="4.45" height="1.58" fill="#847cd4" />
<rect x="68.8" y="230.31" width="4.45" height="1.61" fill="#352b8b" />
<rect x="68.8" y="231.88" width="4.45" height="3.15" fill="#3f3594" />
<rect x="68.8" y="234.98" width="4.45" height="3.04" fill="#322989" />
<rect x="68.8" y="238" width="4.45" height="0.13" fill="#554ca9" />
<rect x="68.8" y="238.09" width="4.45" height="3.15" fill="#4a419f" />
<rect x="68.8" y="241.23" width="4.45" height="1.66" fill="#2e2485" />
<rect x="68.8" y="242.85" width="4.45" height="1.5" fill="#7a72cb" />
<rect x="68.8" y="244.31" width="4.45" height="3.15" fill="#7168c3" />
<rect x="68.8" y="247.42" width="4.45" height="0.32" fill="#5e56b2" />
<rect x="68.8" y="247.69" width="4.45" height="2.87" fill="#958ddd" />
<rect x="68.8" y="250.52" width="4.45" height="2.06" fill="#958edd" />
<rect x="68.8" y="252.54" width="4.45" height="1.13" fill="#312888" />
<rect x="68.8" y="253.63" width="4.45" height="3.15" fill="#372d8d" />
<rect x="68.8" y="256.74" width="4.45" height="3.15" fill="#39308f" />
<rect x="68.8" y="259.85" width="4.45" height="3.15" fill="#2c2283" />
<rect x="68.8" y="262.95" width="4.45" height="3.15" fill="#251b7c" />
<rect x="68.8" y="266.06" width="4.45" height="3.15" fill="#2c2283" />
<rect x="68.8" y="269.17" width="4.45" height="3.15" fill="#403695" />
<rect x="68.8" y="272.28" width="4.45" height="3.15" fill="#292081" />
<rect x="68.8" y="275.38" width="4.45" height="2.64" fill="#342b8b" />
<rect x="68.8" y="278" width="4.45" height="0.53" fill="#584fac" />
<rect x="68.8" y="278.49" width="4.45" height="3.15" fill="#4b429f" />
<rect x="68.8" y="281.6" width="4.45" height="2.9" fill="#4b42a0" />
<rect x="68.8" y="284.46" width="4.45" height="0.29" fill="#776ec8" />
<rect x="68.8" y="284.71" width="4.45" height="3.15" fill="#756cc6" />
<rect x="68.8" y="287.82" width="4.45" height="3.15" fill="#8179d1" />
<rect x="68.8" y="290.92" width="4.45" height="3.15" fill="#746cc6" />
<rect x="68.8" y="294.03" width="4.45" height="0.16" fill="#6d65bf" />
<rect x="68.8" y="294.16" width="4.45" height="1.66" fill="#1e1476" />
<rect x="68.8" y="295.77" width="4.45" height="1.41" fill="#e1ddf4" />
<rect x="68.8" y="297.14" width="4.45" height="2.71" fill="#e5e2f6" />
<rect x="68.8" y="299.81" width="4.45" height="0.48" fill="#1e1476" />
<rect x="68.8" y="300.25" width="4.45" height="2.03" fill="#1e1476" />
<rect x="68.8" y="302.23" width="4.45" height="1.16" fill="#49409e" />
<rect x="68.8" y="303.35" width="4.45" height="3.15" fill="#5a51ae" />
<rect x="68.8" y="306.46" width="4.45" height="2.27" fill="#443a99" />
<rect x="68.8" y="308.69" width="4.45" height="0.91" fill="#9b94df" />
<rect x="68.8" y="309.57" width="4.45" height="3.15" fill="#9991de" />
<rect x="68.8" y="312.68" width="4.45" height="3.15" fill="#b0aae5" />
<rect x="68.8" y="315.78" width="4.45" height="2.24" fill="#ada7e5" />
<rect x="68.8" y="318" width="4.45" height="0.93" fill="#281e7f" />
<rect x="68.8" y="318.89" width="4.45" height="3.15" fill="#322889" />
<rect x="68.8" y="322" width="4.45" height="3.15" fill="#1e1476" />
<rect x="68.8" y="325.11" width="4.45" height="1.01" fill="#281e7f" />
<rect x="68.8" y="326.08" width="4.45" height="2.18" fill="#6057b3" />
<rect x="68.8" y="328.22" width="4.45" height="3.15" fill="#6057b3" />
<rect x="68.8" y="331.32" width="4.45" height="2.87" fill="#4d44a1" />
<rect x="68.8" y="334.16" width="4.45" height="0.32" fill="#251c7d" />
<rect x="68.8" y="334.43" width="4.45" height="3.15" fill="#463d9b" />
<rect x="68.8" y="337.54" width="4.45" height="3.15" fill="#2c2283" />
<rect x="68.8" y="340.65" width="4.45" height="1.63" fill="#281e7f" />
<rect x="68.8" y="342.23" width="4.45" height="1.56" fill="#5b52af" />
<rect x="68.8" y="343.75" width="4.45" height="3.15" fill="#6f66c1" />
<rect x="68.8" y="346.86" width="4.45" height="3.15" fill="#5f56b2" />
<rect x="68.8" y="349.97" width="4.45" height="0.38" fill="#766ec8" />
<rect x="68.8" y="350.31" width="4.45" height="2.81" fill="#3a3190" />
<rect x="68.8" y="353.08" width="4.45" height="3.15" fill="#302787" />
<rect x="68.8" y="356.18" width="4.45" height="3.15" fill="#291f80" />
<rect x="68.8" y="359.29" width="4.45" height="3.15" fill="#261c7e" />
<rect x="73.54" y="39.62" width="4.45" height="2.73" fill="#332989" />
<rect x="73.54" y="42.31" width="4.45" height="3.15" fill="#23197b" />
<rect x="73.54" y="45.42" width="4.45" height="3.15" fill="#352b8b" />
<rect x="73.54" y="48.52" width="4.45" height="3.15" fill="#2a2081" />
<rect x="73.54" y="51.63" width="4.45" height="3.15" fill="#3a3090" />
<rect x="73.54" y="54.74" width="4.45" height="3.15" fill="#241a7c" />
<rect x="73.54" y="57.85" width="4.45" height="3.15" fill="#22187a" />
<rect x="73.54" y="60.95" width="4.45" height="3.15" fill="#23197b" />
<rect x="73.54" y="64.06" width="4.45" height="3.15" fill="#362c8c" />
<rect x="73.54" y="67.17" width="4.45" height="3.15" fill="#2f2686" />
<rect x="73.54" y="70.28" width="4.45" height="3.15" fill="#261c7d" />
<rect x="73.54" y="73.38" width="4.45" height="3.15" fill="#1e1476" />
<rect x="73.54" y="76.49" width="4.45" height="1.53" fill="#312888" />
<rect x="73.54" y="78" width="4.45" height="1.64" fill="#201678" />
<rect x="73.54" y="79.6" width="4.45" height="3.15" fill="#2a2081" />
<rect x="73.54" y="82.71" width="4.45" height="3.15" fill="#1e1476" />
<rect x="73.54" y="85.82" width="4.45" height="2.73" fill="#1e1476" />
<rect x="73.54" y="88.5" width="4.45" height="0.46" fill="#dfdcf4" />
<rect x="73.54" y="88.92" width="4.45" height="2.85" fill="#e1ddf4" />
<rect x="73.54" y="91.73" width="4.45" height="0.34" fill="#1e1476" />
<rect x="73.54" y="92.03" width="4.45" height="3.15" fill="#1e1476" />
<rect x="73.54" y="95.14" width="4.45" height="3.15" fill="#1e1476" />
<rect x="73.54" y="98.25" width="4.45" height="3.15" fill="#1e1476" />
<rect x="73.54" y="101.35" width="4.45" height="3.15" fill="#1e1476" />
<rect x="73.54" y="104.46" width="4.45" height="3.15" fill="#251c7d" />
<rect x="73.54" y="107.57" width="4.45" height="3.15" fill="#2e2485" />
<rect x="73.54" y="110.68" width="4.45" height="3.15" fill="#1e1476" />
<rect x="73.54" y="113.78" width="4.45" height="3.15" fill="#312787" />
<rect x="73.54" y="116.89" width="4.45" height="1.13" fill="#1f1577" />
<rect x="73.54" y="118" width="4.45" height="2.04" fill="#1f1577" />
<rect x="73.54" y="120" width="4.45" height="3.15" fill="#2b2182" />
<rect x="73.54" y="123.11" width="4.45" height="3.15" fill="#2f2585" />
<rect x="73.54" y="126.22" width="4.45" height="1.52" fill="#2f2686" />
<rect x="73.54" y="127.69" width="4.45" height="1.66" fill="#cac5ed" />
<rect x="73.54" y="129.32" width="4.45" height="3.15" fill="#1e1476" />
<rect x="73.54" y="132.43" width="4.45" height="3.15" fill="#1e1476" />
<rect x="73.54" y="135.54" width="4.45" height="1.89" fill="#241a7b" />
<rect x="73.54" y="137.39" width="4.45" height="1.3" fill="#6057b3" />
<rect x="73.54" y="138.65" width="4.45" height="3.15" fill="#7269c3" />
<rect x="73.54" y="141.75" width="4.45" height="0.52" fill="#453c9a" />
<rect x="73.54" y="142.23" width="4.45" height="2.67" fill="#1e1476" />
<rect x="73.54" y="144.86" width="4.45" height="3.15" fill="#1e1476" />
<rect x="73.54" y="147.97" width="4.45" height="3.15" fill="#2c2383" />
<rect x="73.54" y="151.08" width="4.45" height="3.15" fill="#1e1476" />
<rect x="73.54" y="154.18" width="4.45" height="3.15" fill="#1e1476" />
<rect x="73.54" y="157.29" width="4.45" height="0.73" fill="#1e1476" />
<rect x="73.54" y="158" width="4.45" height="2.44" fill="#1e1476" />
<rect x="73.54" y="160.4" width="4.45" height="3.15" fill="#261d7e" />
<rect x="73.54" y="163.51" width="4.45" height="3.15" fill="#2f2586" />
<rect x="73.54" y="166.62" width="4.45" height="3.15" fill="#1e1476" />
<rect x="73.54" y="169.72" width="4.45" height="3.15" fill="#281f80" />
<rect x="73.54" y="172.83" width="4.45" height="3.15" fill="#281e7f" />
<rect x="73.54" y="175.94" width="4.45" height="3.15" fill="#2c2283" />
<rect x="73.54" y="179.05" width="4.45" height="3.15" fill="#22187a" />
<rect x="73.54" y="182.15" width="4.45" height="2.54" fill="#2f2586" />
<rect x="73.54" y="184.66" width="4.45" height="0.65" fill="#a7a1e3" />
<rect x="73.54" y="185.26" width="4.45" height="3.15" fill="#8981d9" />
<rect x="73.54" y="188.37" width="4.45" height="0.37" fill="#8c84db" />
<rect x="73.54" y="188.69" width="4.45" height="2.82" fill="#1e1476" />
<rect x="73.54" y="191.48" width="4.45" height="0.49" fill="#1e1476" />
<rect x="73.54" y="191.93" width="4.45" height="2.7" fill="#6d64bf" />
<rect x="73.54" y="194.58" width="4.45" height="3.15" fill="#8981d9" />
<rect x="73.54" y="197.69" width="4.45" height="0.33" fill="#7a72cb" />
<rect x="73.54" y="198" width="4.45" height="2.46" fill="#1f1677" />
<rect x="73.54" y="200.42" width="4.45" height="0.42" fill="#9b94df" />
<rect x="73.54" y="200.8" width="4.45" height="3.15" fill="#9088dc" />
<rect x="73.54" y="203.91" width="4.45" height="0.59" fill="#8a82da" />
<rect x="73.54" y="204.46" width="4.45" height="2.59" fill="#1e1476" />
<rect x="73.54" y="207.02" width="4.45" height="1.53" fill="#281e7f" />
<rect x="73.54" y="208.5" width="4.45" height="1.66" fill="#867ed7" />
<rect x="73.54" y="210.12" width="4.45" height="1.65" fill="#8078d1" />
<rect x="73.54" y="211.73" width="4.45" height="1.54" fill="#39308f" />
<rect x="73.54" y="213.23" width="4.45" height="3.15" fill="#3d3493" />
<rect x="73.54" y="216.34" width="4.45" height="0.28" fill="#322888" />
<rect x="73.54" y="216.58" width="4.45" height="2.91" fill="#6a62bd" />
<rect x="73.54" y="219.45" width="4.45" height="2.02" fill="#6f67c1" />
<rect x="73.54" y="221.42" width="4.45" height="1.17" fill="#201678" />
<rect x="73.54" y="222.55" width="4.45" height="2.95" fill="#1e1476" />
<rect x="73.54" y="225.46" width="4.45" height="0.24" fill="#6960bb" />
<rect x="73.54" y="225.66" width="4.45" height="3.15" fill="#867ed6" />
<rect x="73.54" y="228.77" width="4.45" height="1.58" fill="#6259b5" />
<rect x="73.54" y="230.31" width="4.45" height="1.61" fill="#3b3191" />
<rect x="73.54" y="231.88" width="4.45" height="3.15" fill="#4a419f" />
<rect x="73.54" y="234.98" width="4.45" height="3.04" fill="#544ba8" />
<rect x="73.54" y="238" width="4.45" height="0.13" fill="#3f3594" />
<rect x="73.54" y="238.09" width="4.45" height="3.15" fill="#3c3292" />
<rect x="73.54" y="241.2" width="4.45" height="3.15" fill="#281e7f" />
<rect x="73.54" y="244.31" width="4.45" height="3.15" fill="#2d2384" />
<rect x="73.54" y="247.42" width="4.45" height="0.32" fill="#423897" />
<rect x="73.54" y="247.69" width="4.45" height="2.87" fill="#261c7d" />
<rect x="73.54" y="250.52" width="4.45" height="2.06" fill="#1f1577" />
<rect x="73.54" y="252.54" width="4.45" height="1.13" fill="#3b3191" />
<rect x="73.54" y="253.63" width="4.45" height="3.15" fill="#433a98" />
<rect x="73.54" y="256.74" width="4.45" height="3.15" fill="#433998" />
<rect x="73.54" y="259.85" width="4.45" height="3.15" fill="#342a8a" />
<rect x="73.54" y="262.95" width="4.45" height="3.15" fill="#433a99" />
<rect x="73.54" y="266.06" width="4.45" height="3.15" fill="#3e3493" />
<rect x="73.54" y="269.17" width="4.45" height="3.15" fill="#302687" />
<rect x="73.54" y="272.28" width="4.45" height="3.15" fill="#312888" />
<rect x="73.54" y="275.38" width="4.45" height="2.64" fill="#271d7e" />
<rect x="73.54" y="278" width="4.45" height="0.53" fill="#271d7e" />
<rect x="73.54" y="278.49" width="4.45" height="3.15" fill="#322989" />
<rect x="73.54" y="281.6" width="4.45" height="3.15" fill="#463c9b" />
<rect x="73.54" y="284.71" width="4.45" height="3.15" fill="#281e7f" />
<rect x="73.54" y="287.82" width="4.45" height="3.15" fill="#382f8e" />
<rect x="73.54" y="290.92" width="4.45" height="3.15" fill="#281e80" />
<rect x="73.54" y="294.03" width="4.45" height="3.15" fill="#271d7f" />
<rect x="73.54" y="297.14" width="4.45" height="3.15" fill="#3b3191" />
<rect x="73.54" y="300.25" width="4.45" height="3.15" fill="#2d2384" />
<rect x="73.54" y="303.35" width="4.45" height="3.15" fill="#261c7e" />
<rect x="73.54" y="306.46" width="4.45" height="3.15" fill="#2a2081" />
<rect x="73.54" y="309.57" width="4.45" height="3.15" fill="#3b3191" />
<rect x="73.54" y="312.68" width="4.45" height="3.15" fill="#392f8f" />
<rect x="73.54" y="315.78" width="4.45" height="2.24" fill="#251b7c" />
<rect x="73.54" y="318" width="4.45" height="0.93" fill="#1e1476" />
<rect x="73.54" y="318.89" width="4.45" height="3.15" fill="#1e1476" />
<rect x="73.54" y="322.04" width="4.45" height="3.11" fill="#f9e0e0" />
<rect x="73.54" y="325.11" width="4.45" height="0.2" fill="#ebe8f7" />
<rect x="73.54" y="325.27" width="4.45" height="2.99" fill="#211779" />
<rect x="73.54" y="328.22" width="4.45" height="3.15" fill="#2d2384" />
<rect x="73.54" y="331.32" width="4.45" height="3.15" fill="#281e7f" />
<rect x="73.54" y="334.43" width="4.45" height="3.15" fill="#352b8b" />
<rect x="73.54" y="337.54" width="4.45" height="0.7" fill="#2f2585" />
<rect x="73.54" y="338.19" width="4.45" height="2.49" fill="#cecaef" />
<rect x="73.54" y="340.65" width="4.45" height="1.63" fill="#d8d4f2" />
<rect x="73.54" y="342.23" width="4.45" height="1.56" fill="#6961bc" />
<rect x="73.54" y="343.75" width="4.45" height="3.15" fill="#5c53b0" />
<rect x="73.54" y="346.86" width="4.45" height="3.15" fill="#4a419f" />
<rect x="73.54" y="349.97" width="4.45" height="3.15" fill="#4a419f" />
<rect x="73.54" y="353.08" width="4.45" height="2.93" fill="#453b9a" />
<rect x="73.54" y="355.96" width="4.45" height="0.26" fill="#e3e0f5" />
<rect x="73.54" y="356.18" width="4.45" height="2.24" fill="#f9e7e8" />
<rect x="73.54" y="358.39" width="4.45" height="0.94" fill="#251b7c" />
<rect x="73.54" y="359.29" width="4.45" height="3.15" fill="#1e1476" />
<rect x="78.28" y="39.62" width="4.45" height="2.73" fill="#1e1476" />
<rect x="78.28" y="42.31" width="4.45" height="3.15" fill="#302787" />
<rect x="78.28" y="45.42" width="4.45" height="3.15" fill="#1e1476" />
<rect x="78.28" y="48.52" width="4.45" height="3.15" fill="#2e2485" />
<rect x="78.28" y="51.63" width="4.45" height="3.15" fill="#1e1476" />
<rect x="78.28" y="54.74" width="4.45" height="3.15" fill="#1f1577" />
<rect x="78.28" y="57.85" width="4.45" height="3.15" fill="#1e1476" />
<rect x="78.28" y="60.95" width="4.45" height="3.15" fill="#2c2283" />
<rect x="78.28" y="64.06" width="4.45" height="3.15" fill="#241a7c" />
<rect x="78.28" y="67.17" width="4.45" height="3.15" fill="#251b7d" />
<rect x="78.28" y="70.28" width="4.45" height="3.15" fill="#291f80" />
<rect x="78.28" y="73.38" width="4.45" height="3.15" fill="#2d2384" />
<rect x="78.28" y="76.49" width="4.45" height="1.53" fill="#1e1476" />
<rect x="78.28" y="78" width="4.45" height="1.64" fill="#1e1476" />
<rect x="78.28" y="79.6" width="4.45" height="3.15" fill="#241a7b" />
<rect x="78.28" y="82.71" width="4.45" height="3.15" fill="#1e1476" />
<rect x="78.28" y="85.82" width="4.45" height="3.15" fill="#1e1476" />
<rect x="78.28" y="88.92" width="4.45" height="3.15" fill="#2c2283" />
<rect x="78.28" y="92.03" width="4.45" height="0.55" fill="#231a7b" />
<rect x="78.28" y="92.54" width="4.45" height="1.66" fill="#5f57b3" />
<rect x="78.28" y="94.16" width="4.45" height="1.02" fill="#231a7b" />
<rect x="78.28" y="95.14" width="4.45" height="3.15" fill="#2b2182" />
<rect x="78.28" y="98.25" width="4.45" height="3.15" fill="#1e1476" />
<rect x="78.28" y="101.35" width="4.45" height="3.15" fill="#221879" />
<rect x="78.28" y="104.46" width="4.45" height="3.15" fill="#1f1577" />
<rect x="78.28" y="107.57" width="4.45" height="3.15" fill="#281e7f" />
<rect x="78.28" y="110.68" width="4.45" height="3.15" fill="#1e1476" />
<rect x="78.28" y="113.78" width="4.45" height="3.15" fill="#1e1476" />
<rect x="78.28" y="116.89" width="4.45" height="1.13" fill="#201678" />
<rect x="78.28" y="118" width="4.45" height="2.04" fill="#403796" />
<rect x="78.28" y="120" width="4.45" height="3.15" fill="#322888" />
<rect x="78.28" y="123.11" width="4.45" height="3.15" fill="#423998" />
<rect x="78.28" y="126.22" width="4.45" height="3.15" fill="#493f9e" />
<rect x="78.28" y="129.32" width="4.45" height="3.15" fill="#3e3494" />
<rect x="78.28" y="132.43" width="4.45" height="3.15" fill="#463c9b" />
<rect x="78.28" y="135.54" width="4.45" height="2.7" fill="#443b99" />
<rect x="78.28" y="138.19" width="4.45" height="0.49" fill="#faf3f6" />
<rect x="78.28" y="138.65" width="4.45" height="3.15" fill="#ebe8f7" />
<rect x="78.28" y="141.75" width="4.45" height="0.52" fill="#f2f0fa" />
<rect x="78.28" y="142.23" width="4.45" height="2.67" fill="#1e1476" />
<rect x="78.28" y="144.86" width="4.45" height="3.15" fill="#2b2182" />
<rect x="78.28" y="147.97" width="4.45" height="3.15" fill="#1e1476" />
<rect x="78.28" y="151.08" width="4.45" height="3.15" fill="#1e1476" />
<rect x="78.28" y="154.18" width="4.45" height="3.15" fill="#1e1476" />
<rect x="78.28" y="157.29" width="4.45" height="0.73" fill="#1e1476" />
<rect x="78.28" y="158" width="4.45" height="2.44" fill="#1e1476" />
<rect x="78.28" y="160.4" width="4.45" height="3.15" fill="#1e1476" />
<rect x="78.28" y="163.51" width="4.45" height="3.15" fill="#2f2586" />
<rect x="78.28" y="166.62" width="4.45" height="3.15" fill="#281e7f" />
<rect x="78.28" y="169.72" width="4.45" height="3.15" fill="#2d2384" />
<rect x="78.28" y="172.83" width="4.45" height="3.15" fill="#312788" />
<rect x="78.28" y="175.94" width="4.45" height="3.15" fill="#241a7c" />
<rect x="78.28" y="179.05" width="4.45" height="3.15" fill="#2f2586" />
<rect x="78.28" y="182.15" width="4.45" height="3.15" fill="#211779" />
<rect x="78.28" y="185.26" width="4.45" height="3.15" fill="#1e1476" />
<rect x="78.28" y="188.37" width="4.45" height="3.15" fill="#302686" />
<rect x="78.28" y="191.48" width="4.45" height="3.15" fill="#2e2485" />
<rect x="78.28" y="194.58" width="4.45" height="3.15" fill="#302686" />
<rect x="78.28" y="197.69" width="4.45" height="0.33" fill="#201677" />
<rect x="78.28" y="198" width="4.45" height="2.84" fill="#1e1476" />
<rect x="78.28" y="200.8" width="4.45" height="3.15" fill="#23197b" />
<rect x="78.28" y="203.91" width="4.45" height="3.15" fill="#1e1476" />
<rect x="78.28" y="207.02" width="4.45" height="3.15" fill="#2b2182" />
<rect x="78.28" y="210.12" width="4.45" height="3.15" fill="#281e7f" />
<rect x="78.28" y="213.23" width="4.45" height="3.15" fill="#1e1476" />
<rect x="78.28" y="216.34" width="4.45" height="3.15" fill="#291f80" />
<rect x="78.28" y="219.45" width="4.45" height="3.15" fill="#1e1476" />
<rect x="78.28" y="222.55" width="4.45" height="3.15" fill="#1e1476" />
<rect x="78.28" y="225.66" width="4.45" height="3.15" fill="#211779" />
<rect x="78.28" y="228.77" width="4.45" height="3.15" fill="#1e1476" />
<rect x="78.28" y="231.88" width="4.45" height="3.15" fill="#1e1476" />
<rect x="78.28" y="234.98" width="4.45" height="3.04" fill="#1e1576" />
<rect x="78.28" y="238" width="4.45" height="0.13" fill="#6259b5" />
<rect x="78.28" y="238.09" width="4.45" height="3.15" fill="#433998" />
<rect x="78.28" y="241.2" width="4.45" height="3.15" fill="#675fba" />
<rect x="78.28" y="244.31" width="4.45" height="3.15" fill="#4f46a3" />
<rect x="78.28" y="247.42" width="4.45" height="0.32" fill="#574eab" />
<rect x="78.28" y="247.69" width="4.45" height="2.46" fill="#f6f4fb" />
<rect x="78.28" y="250.12" width="4.45" height="0.45" fill="#1e1476" />
<rect x="78.28" y="250.52" width="4.45" height="3.15" fill="#1e1476" />
<rect x="78.28" y="253.63" width="4.45" height="3.15" fill="#22187a" />
<rect x="78.28" y="256.74" width="4.45" height="3.15" fill="#22187a" />
<rect x="78.28" y="259.85" width="4.45" height="3.15" fill="#1e1476" />
<rect x="78.28" y="262.95" width="4.45" height="3.15" fill="#1e1476" />
<rect x="78.28" y="266.06" width="4.45" height="3.15" fill="#1e1476" />
<rect x="78.28" y="269.17" width="4.45" height="3.15" fill="#1e1476" />
<rect x="78.28" y="272.28" width="4.45" height="3.15" fill="#1e1476" />
<rect x="78.28" y="275.38" width="4.45" height="2.64" fill="#1e1476" />
<rect x="78.28" y="278" width="4.45" height="0.53" fill="#1e1476" />
<rect x="78.28" y="278.49" width="4.45" height="3.15" fill="#23197a" />
<rect x="78.28" y="281.6" width="4.45" height="3.15" fill="#211778" />
<rect x="78.28" y="284.71" width="4.45" height="3.15" fill="#2a2081" />
<rect x="78.28" y="287.82" width="4.45" height="3.15" fill="#2a2081" />
<rect x="78.28" y="290.92" width="4.45" height="1.66" fill="#271d7e" />
<rect x="78.28" y="292.54" width="4.45" height="1.53" fill="#847bd4" />
<rect x="78.28" y="294.03" width="4.45" height="1.78" fill="#6961bc" />
<rect x="78.28" y="295.77" width="4.45" height="1.41" fill="#1e1476" />
<rect x="78.28" y="297.14" width="4.45" height="3.15" fill="#1e1476" />
<rect x="78.28" y="300.25" width="4.45" height="3.15" fill="#1e1476" />
<rect x="78.28" y="303.35" width="4.45" height="3.15" fill="#1e1476" />
<rect x="78.28" y="306.46" width="4.45" height="3.15" fill="#1e1476" />
<rect x="78.28" y="309.57" width="4.45" height="3.15" fill="#1e1476" />
<rect x="78.28" y="312.68" width="4.45" height="3.15" fill="#1e1476" />
<rect x="78.28" y="315.78" width="4.45" height="2.24" fill="#261c7d" />
<rect x="78.28" y="318" width="4.45" height="0.93" fill="#261c7d" />
<rect x="78.28" y="318.89" width="4.45" height="3.15" fill="#1e1476" />
<rect x="78.28" y="322" width="4.45" height="3.15" fill="#1e1476" />
<rect x="78.28" y="325.11" width="4.45" height="3.15" fill="#271d7e" />
<rect x="78.28" y="328.22" width="4.45" height="3.15" fill="#241a7c" />
<rect x="78.28" y="331.32" width="4.45" height="3.15" fill="#1e1476" />
<rect x="78.28" y="334.43" width="4.45" height="3.15" fill="#1e1476" />
<rect x="78.28" y="337.54" width="4.45" height="3.15" fill="#241a7c" />
<rect x="78.28" y="340.65" width="4.45" height="3.15" fill="#1e1476" />
<rect x="78.28" y="343.75" width="4.45" height="3.15" fill="#1e1476" />
<rect x="78.28" y="346.86" width="4.45" height="3.15" fill="#1e1476" />
<rect x="78.28" y="349.97" width="4.45" height="3.15" fill="#1e1476" />
<rect x="78.28" y="353.08" width="4.45" height="3.15" fill="#1e1476" />
<rect x="78.28" y="356.18" width="4.45" height="3.15" fill="#1e1476" />
<rect x="78.28" y="359.29" width="4.45" height="3.15" fill="#1e1476" />
<path d="M40.36 40.75L40.36 43.86M40.36 40.75L44.3 40.75M40.36 43.86L44.3 43.86M38.69 42.31L38.69 46.97M38.69 42.31L40.36 42.31M38.69 46.97L44.3 46.97M40.52 50.08L40.52 53.18M40.52 50.08L44.3 50.08M40.52 53.18L44.3 53.18M39.13 51.63L39.13 56.29M39.13 51.63L40.52 51.63M39.13 56.29L44.3 56.29M37.39 44.64L37.39 53.96M37.39 44.64L38.69 44.64M37.39 53.96L39.13 53.96M39.5 59.4L39.5 62.51M39.5 59.4L44.3 59.4M39.5 62.51L44.3 62.51M36.38 49.3L36.38 60.95M36.38 49.3L37.39 49.3M36.38 60.95L39.5 60.95M40.41 65.62L40.41 68.72M40.41 65.62L44.3 65.62M40.41 68.72L44.3 68.72M39.78 71.83L39.78 74.94M39.78 71.83L44.3 71.83M39.78 74.94L44.3 74.94M38.85 67.17L38.85 73.38M38.85 67.17L40.41 67.17M38.85 73.38L39.78 73.38M40.27 78.05L40.27 81.15M40.27 78.05L44.3 78.05M40.27 81.15L44.3 81.15M37.58 70.28L37.58 79.6M37.58 70.28L38.85 70.28M37.58 79.6L40.27 79.6M39.93 84.26L39.93 87.37M39.93 84.26L44.3 84.26M39.93 87.37L44.3 87.37M33.48 74.94L33.48 85.82M33.48 74.94L37.58 74.94M33.48 85.82L39.93 85.82M30.17 55.13L30.17 80.38M30.17 55.13L36.38 55.13M30.17 80.38L33.48 80.38M38.99 93.58L38.99 96.69M38.99 93.58L44.3 93.58M38.99 96.69L44.3 96.69M37.67 90.48L37.67 95.14M37.67 90.48L44.3 90.48M37.67 95.14L38.99 95.14M39.48 99.8L39.48 102.91M39.48 99.8L44.3 99.8M39.48 102.91L44.3 102.91M37.07 92.81L37.07 101.35M37.07 92.81L37.67 92.81M37.07 101.35L39.48 101.35M40.56 106.02L40.56 109.12M40.56 106.02L44.3 106.02M40.56 109.12L44.3 109.12M39.24 112.23L39.24 115.34M39.24 112.23L44.3 112.23M39.24 115.34L44.3 115.34M38.64 113.78L38.64 118.45M38.64 113.78L39.24 113.78M38.64 118.45L44.3 118.45M35.62 107.57L35.62 116.12M35.62 107.57L40.56 107.57M35.62 116.12L38.64 116.12M32.05 97.08L32.05 111.84M32.05 97.08L37.07 97.08M32.05 111.84L35.62 111.84M39.14 121.55L39.14 124.66M39.14 121.55L44.3 121.55M39.14 124.66L44.3 124.66M40.55 127.77L40.55 130.88M40.55 127.77L44.3 127.77M40.55 130.88L44.3 130.88M38.44 129.32L38.44 133.98M38.44 129.32L40.55 129.32M38.44 133.98L44.3 133.98M40.53 137.09L40.53 140.2M40.53 137.09L44.3 137.09M40.53 140.2L44.3 140.2M39.07 138.65L39.07 143.31M39.07 138.65L40.53 138.65M39.07 143.31L44.3 143.31M34.69 131.65L34.69 140.98M34.69 131.65L38.44 131.65M34.69 140.98L39.07 140.98M33.78 123.11L33.78 136.32M33.78 123.11L39.14 123.11M33.78 136.32L34.69 136.32M31.45 104.46L31.45 129.71M31.45 104.46L32.05 104.46M31.45 129.71L33.78 129.71M25.11 67.75L25.11 117.09M25.11 67.75L30.17 67.75M25.11 117.09L31.45 117.09M39.92 149.52L39.92 152.63M39.92 149.52L44.3 149.52M39.92 152.63L44.3 152.63M39.32 146.42L39.32 151.08M39.32 146.42L44.3 146.42M39.32 151.08L39.92 151.08M40.45 155.74L40.45 158.85M40.45 155.74L44.3 155.74M40.45 158.85L44.3 158.85M36.5 148.75L36.5 157.29M36.5 148.75L39.32 148.75M36.5 157.29L40.45 157.29M40.22 161.95L40.22 165.06M40.22 161.95L44.3 161.95M40.22 165.06L44.3 165.06M39.32 168.17L39.32 171.28M39.32 168.17L44.3 168.17M39.32 171.28L44.3 171.28M38.24 163.51L38.24 169.72M38.24 163.51L40.22 163.51M38.24 169.72L39.32 169.72M39.23 174.38L39.23 177.49M39.23 174.38L44.3 174.38M39.23 177.49L44.3 177.49M39 180.6L39 183.71M39 180.6L44.3 180.6M39 183.71L44.3 183.71M40.24 186.82L40.24 189.92M40.24 186.82L44.3 186.82M40.24 189.92L44.3 189.92M37.08 182.15L37.08 188.37M37.08 182.15L39 182.15M37.08 188.37L40.24 188.37M36.48 175.94L36.48 185.26M36.48 175.94L39.23 175.94M36.48 185.26L37.08 185.26M40.52 196.14L40.52 199.25M40.52 196.14L44.3 196.14M40.52 199.25L44.3 199.25M38.54 193.03L38.54 197.69M38.54 193.03L44.3 193.03M38.54 197.69L40.52 197.69M35.07 180.6L35.07 195.36M35.07 180.6L36.48 180.6M35.07 195.36L38.54 195.36M31.31 166.62L31.31 187.98M31.31 166.62L38.24 166.62M31.31 187.98L35.07 187.98M30.06 153.02L30.06 177.3M30.06 153.02L36.5 153.02M30.06 177.3L31.31 177.3M39.14 205.46L39.14 208.57M39.14 205.46L44.3 205.46M39.14 208.57L44.3 208.57M38.04 202.35L38.04 207.02M38.04 202.35L44.3 202.35M38.04 207.02L39.14 207.02M37.44 204.68L37.44 211.68M37.44 204.68L38.04 204.68M37.44 211.68L44.3 211.68M39.09 217.89L39.09 221M39.09 217.89L44.3 217.89M39.09 221L44.3 221M38.49 214.78L38.49 219.45M38.49 214.78L44.3 214.78M38.49 219.45L39.09 219.45M33.88 208.18L33.88 217.12M33.88 208.18L37.44 208.18M33.88 217.12L38.49 217.12M40.61 227.22L40.61 230.32M40.61 227.22L44.3 227.22M40.61 230.32L44.3 230.32M37.74 224.11L37.74 228.77M37.74 224.11L44.3 224.11M37.74 228.77L40.61 228.77M40.24 236.54L40.24 239.65M40.24 236.54L44.3 236.54M40.24 239.65L44.3 239.65M38.03 233.43L38.03 238.09M38.03 233.43L44.3 233.43M38.03 238.09L40.24 238.09M35.82 226.44L35.82 235.76M35.82 226.44L37.74 226.44M35.82 235.76L38.03 235.76M40.38 242.75L40.38 245.86M40.38 242.75L44.3 242.75M40.38 245.86L44.3 245.86M33.92 231.1L33.92 244.31M33.92 231.1L35.82 231.1M33.92 244.31L40.38 244.31M32.97 212.65L32.97 237.7M32.97 212.65L33.88 212.65M32.97 237.7L33.92 237.7M39.23 248.97L39.23 252.08M39.23 248.97L44.3 248.97M39.23 252.08L44.3 252.08M39.13 255.18L39.13 258.29M39.13 255.18L44.3 255.18M39.13 258.29L44.3 258.29M38.53 256.74L38.53 261.4M38.53 256.74L39.13 256.74M38.53 261.4L44.3 261.4M37.93 250.52L37.93 259.07M37.93 250.52L39.23 250.52M37.93 259.07L38.53 259.07M29.83 225.18L29.83 254.8M29.83 225.18L32.97 225.18M29.83 254.8L37.93 254.8M39.71 267.62L39.71 270.72M39.71 267.62L44.3 267.62M39.71 270.72L44.3 270.72M39.11 264.51L39.11 269.17M39.11 264.51L44.3 264.51M39.11 269.17L39.71 269.17M39.57 273.83L39.57 276.94M39.57 273.83L44.3 273.83M39.57 276.94L44.3 276.94M38.31 275.38L38.31 280.05M38.31 275.38L39.57 275.38M38.31 280.05L44.3 280.05M40.65 286.26L40.65 289.37M40.65 286.26L44.3 286.26M40.65 289.37L44.3 289.37M37.85 283.15L37.85 287.82M37.85 283.15L44.3 283.15M37.85 287.82L40.65 287.82M39.05 292.48L39.05 295.58M39.05 292.48L44.3 292.48M39.05 295.58L44.3 295.58M37.25 285.48L37.25 294.03M37.25 285.48L37.85 285.48M37.25 294.03L39.05 294.03M34.23 277.72L34.23 289.76M34.23 277.72L38.31 277.72M34.23 289.76L37.25 289.76M32.96 266.84L32.96 283.74M32.96 266.84L39.11 266.84M32.96 283.74L34.23 283.74M39.75 298.69L39.75 301.8M39.75 298.69L44.3 298.69M39.75 301.8L44.3 301.8M38.21 300.25L38.21 304.91M38.21 300.25L39.75 300.25M38.21 304.91L44.3 304.91M39.33 308.02L39.33 311.12M39.33 308.02L44.3 308.02M39.33 311.12L44.3 311.12M37.84 309.57L37.84 314.23M37.84 309.57L39.33 309.57M37.84 314.23L44.3 314.23M37.24 311.9L37.24 317.34M37.24 311.9L37.84 311.9M37.24 317.34L44.3 317.34M34.77 302.58L34.77 314.62M34.77 302.58L38.21 302.58M34.77 314.62L37.24 314.62M39.22 323.55L39.22 326.66M39.22 323.55L44.3 323.55M39.22 326.66L44.3 326.66M38.56 320.45L38.56 325.11M38.56 320.45L44.3 320.45M38.56 325.11L39.22 325.11M37.45 322.78L37.45 329.77M37.45 322.78L38.56 322.78M37.45 329.77L44.3 329.77M36.85 326.27L36.85 332.88M36.85 326.27L37.45 326.27M36.85 332.88L44.3 332.88M31.95 308.6L31.95 329.57M31.95 308.6L34.77 308.6M31.95 329.57L36.85 329.57M26.47 275.29L26.47 319.09M26.47 275.29L32.96 275.29M26.47 319.09L31.95 319.09M23.98 239.99L23.98 297.19M23.98 239.99L29.83 239.99M23.98 297.19L26.47 297.19M13.47 165.16L13.47 268.59M13.47 165.16L30.06 165.16M13.47 268.59L23.98 268.59M39.43 335.98L39.43 339.09M39.43 335.98L44.3 335.98M39.43 339.09L44.3 339.09M38.54 337.54L38.54 342.2M38.54 337.54L39.43 337.54M38.54 342.2L44.3 342.2M37.9 339.87L37.9 345.31M37.9 339.87L38.54 339.87M37.9 345.31L44.3 345.31M35.96 342.59L35.96 348.42M35.96 342.59L37.9 342.59M35.96 348.42L44.3 348.42M21.5 216.87L21.5 345.5M21.5 216.87L13.47 216.87M21.5 345.5L35.96 345.5M18.5 92.42L18.5 281.19M18.5 92.42L25.11 92.42M18.5 281.19L21.5 281.19M39.66 354.63L39.66 357.74M39.66 354.63L44.3 354.63M39.66 357.74L44.3 357.74M38.75 356.18L38.75 360.85M38.75 356.18L39.66 356.18M38.75 360.85L44.3 360.85M38.15 351.52L38.15 358.52M38.15 351.52L44.3 351.52M38.15 358.52L38.75 358.52M8 186.8L8 355.02M8 186.8L18.5 186.8M8 355.02L38.15 355.02" stroke="#a9a9a9" stroke-width="0.55" fill="none"/>
<rect x="0.5" y="0.5" width="519" height="569" fill="none" stroke="#4a4a4a" stroke-width="1.2"/>
</svg>
</body></html>
